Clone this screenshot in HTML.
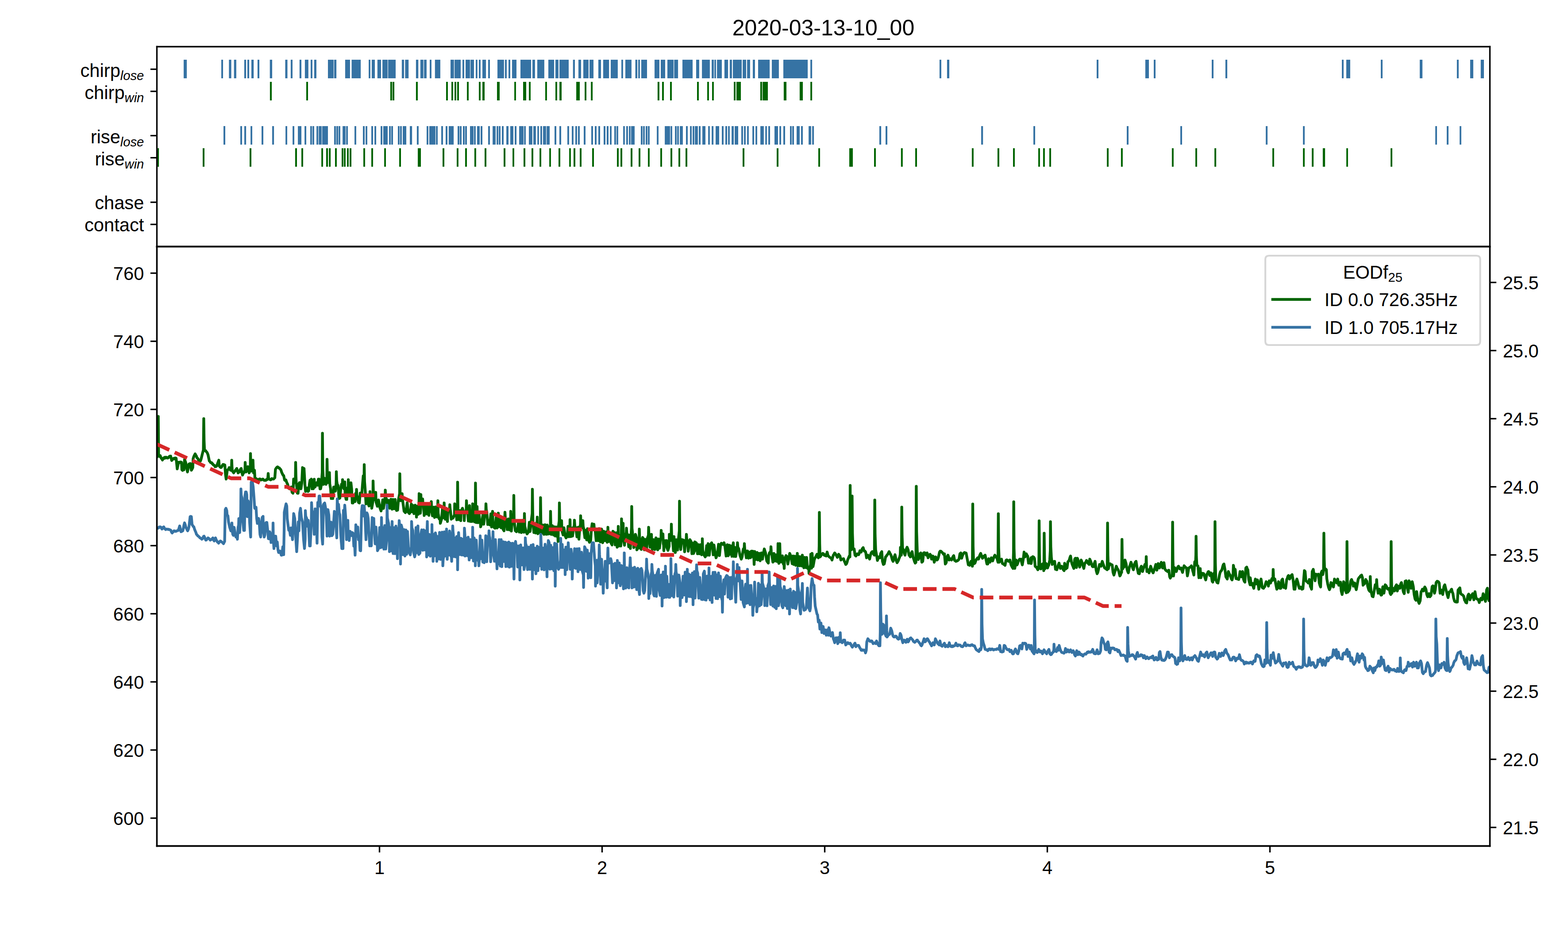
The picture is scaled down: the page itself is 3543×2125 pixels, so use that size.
<!DOCTYPE html>
<html><head><meta charset="utf-8"><title>2020-03-13-10_00</title>
<style>
html,body{margin:0;padding:0;background:#fff;}
body{width:3543px;height:2125px;position:relative;overflow:hidden;font-family:"Liberation Sans",sans-serif;}
</style></head><body>

<svg width="3543" height="2125" viewBox="0 0 850.32 510" preserveAspectRatio="none" style="position:absolute;left:0;top:0;display:block">
<defs>
<style type="text/css">*{stroke-linejoin: round; stroke-linecap: butt}</style>
</defs>
<g id="figure_1">
<g id="patch_1">
<path d="M 0 510 
L 850.32 510 
L 850.32 0 
L 0 0 
z
" style="fill: #ffffff"/>
</g>
<g id="axes_1">
<g id="patch_2">
<path d="M 85.08 133.8 
L 807.96 133.8 
L 807.96 25.32 
L 85.08 25.32 
z
" style="fill: #ffffff"/>
</g>
<g id="PatchCollection_1">
<path d="M 99.6 32.424 
L 101.304 32.424 
L 101.304 42.456 
L 99.6 42.456 
z
" clip-path="url(#pc939853afc)" style="fill: #3673a4"/>
<path d="M 120 32.424 
L 120.96 32.424 
L 120.96 42.456 
L 120 42.456 
z
" clip-path="url(#pc939853afc)" style="fill: #3673a4"/>
<path d="M 124.152 32.424 
L 125.424 32.424 
L 125.424 42.456 
L 124.152 42.456 
z
" clip-path="url(#pc939853afc)" style="fill: #3673a4"/>
<path d="M 126.888 32.424 
L 128.136 32.424 
L 128.136 42.456 
L 126.888 42.456 
z
" clip-path="url(#pc939853afc)" style="fill: #3673a4"/>
<path d="M 132.456 32.424 
L 133.464 32.424 
L 133.464 42.456 
L 132.456 42.456 
z
" clip-path="url(#pc939853afc)" style="fill: #3673a4"/>
<path d="M 134.16 32.424 
L 135.12 32.424 
L 135.12 42.456 
L 134.16 42.456 
z
" clip-path="url(#pc939853afc)" style="fill: #3673a4"/>
<path d="M 136.32 32.424 
L 137.568 32.424 
L 137.568 42.456 
L 136.32 42.456 
z
" clip-path="url(#pc939853afc)" style="fill: #3673a4"/>
<path d="M 139.656 32.424 
L 140.64 32.424 
L 140.64 42.456 
L 139.656 42.456 
z
" clip-path="url(#pc939853afc)" style="fill: #3673a4"/>
<path d="M 146.328 32.424 
L 147.6 32.424 
L 147.6 42.456 
L 146.328 42.456 
z
" clip-path="url(#pc939853afc)" style="fill: #3673a4"/>
<path d="M 154.68 32.424 
L 155.88 32.424 
L 155.88 42.456 
L 154.68 42.456 
z
" clip-path="url(#pc939853afc)" style="fill: #3673a4"/>
<path d="M 157.656 32.424 
L 158.64 32.424 
L 158.64 42.456 
L 157.656 42.456 
z
" clip-path="url(#pc939853afc)" style="fill: #3673a4"/>
<path d="M 162.432 32.424 
L 163.44 32.424 
L 163.44 42.456 
L 162.432 42.456 
z
" clip-path="url(#pc939853afc)" style="fill: #3673a4"/>
<path d="M 165.336 32.424 
L 167.232 32.424 
L 167.232 42.456 
L 165.336 42.456 
z
" clip-path="url(#pc939853afc)" style="fill: #3673a4"/>
<path d="M 168.48 32.424 
L 169.416 32.424 
L 169.416 42.456 
L 168.48 42.456 
z
" clip-path="url(#pc939853afc)" style="fill: #3673a4"/>
<path d="M 170.376 32.424 
L 171.576 32.424 
L 171.576 42.456 
L 170.376 42.456 
z
" clip-path="url(#pc939853afc)" style="fill: #3673a4"/>
<path d="M 177.84 32.424 
L 180.936 32.424 
L 180.936 42.456 
L 177.84 42.456 
z
" clip-path="url(#pc939853afc)" style="fill: #3673a4"/>
<path d="M 181.2 32.424 
L 182.424 32.424 
L 182.424 42.456 
L 181.2 42.456 
z
" clip-path="url(#pc939853afc)" style="fill: #3673a4"/>
<path d="M 187.176 32.424 
L 189.816 32.424 
L 189.816 42.456 
L 187.176 42.456 
z
" clip-path="url(#pc939853afc)" style="fill: #3673a4"/>
<path d="M 190.68 32.424 
L 195.624 32.424 
L 195.624 42.456 
L 190.68 42.456 
z
" clip-path="url(#pc939853afc)" style="fill: #3673a4"/>
<path d="M 199.944 32.424 
L 200.856 32.424 
L 200.856 42.456 
L 199.944 42.456 
z
" clip-path="url(#pc939853afc)" style="fill: #3673a4"/>
<path d="M 201.576 32.424 
L 203.28 32.424 
L 203.28 42.456 
L 201.576 42.456 
z
" clip-path="url(#pc939853afc)" style="fill: #3673a4"/>
<path d="M 204.672 32.424 
L 206.64 32.424 
L 206.64 42.456 
L 204.672 42.456 
z
" clip-path="url(#pc939853afc)" style="fill: #3673a4"/>
<path d="M 207.384 32.424 
L 210.216 32.424 
L 210.216 42.456 
L 207.384 42.456 
z
" clip-path="url(#pc939853afc)" style="fill: #3673a4"/>
<path d="M 210.48 32.424 
L 214.56 32.424 
L 214.56 42.456 
L 210.48 42.456 
z
" clip-path="url(#pc939853afc)" style="fill: #3673a4"/>
<path d="M 217.896 32.424 
L 219.12 32.424 
L 219.12 42.456 
L 217.896 42.456 
z
" clip-path="url(#pc939853afc)" style="fill: #3673a4"/>
<path d="M 219.696 32.424 
L 221.568 32.424 
L 221.568 42.456 
L 219.696 42.456 
z
" clip-path="url(#pc939853afc)" style="fill: #3673a4"/>
<path d="M 225.576 32.424 
L 226.848 32.424 
L 226.848 42.456 
L 225.576 42.456 
z
" clip-path="url(#pc939853afc)" style="fill: #3673a4"/>
<path d="M 227.976 32.424 
L 229.632 32.424 
L 229.632 42.456 
L 227.976 42.456 
z
" clip-path="url(#pc939853afc)" style="fill: #3673a4"/>
<path d="M 229.944 32.424 
L 231.336 32.424 
L 231.336 42.456 
L 229.944 42.456 
z
" clip-path="url(#pc939853afc)" style="fill: #3673a4"/>
<path d="M 233.04 32.424 
L 233.976 32.424 
L 233.976 42.456 
L 233.04 42.456 
z
" clip-path="url(#pc939853afc)" style="fill: #3673a4"/>
<path d="M 235.872 32.424 
L 238.776 32.424 
L 238.776 42.456 
L 235.872 42.456 
z
" clip-path="url(#pc939853afc)" style="fill: #3673a4"/>
<path d="M 244.32 32.424 
L 246.192 32.424 
L 246.192 42.456 
L 244.32 42.456 
z
" clip-path="url(#pc939853afc)" style="fill: #3673a4"/>
<path d="M 246.504 32.424 
L 249.84 32.424 
L 249.84 42.456 
L 246.504 42.456 
z
" clip-path="url(#pc939853afc)" style="fill: #3673a4"/>
<path d="M 250.8 32.424 
L 251.736 32.424 
L 251.736 42.456 
L 250.8 42.456 
z
" clip-path="url(#pc939853afc)" style="fill: #3673a4"/>
<path d="M 252.48 32.424 
L 254.88 32.424 
L 254.88 42.456 
L 252.48 42.456 
z
" clip-path="url(#pc939853afc)" style="fill: #3673a4"/>
<path d="M 255.144 32.424 
L 257.04 32.424 
L 257.04 42.456 
L 255.144 42.456 
z
" clip-path="url(#pc939853afc)" style="fill: #3673a4"/>
<path d="M 258 32.424 
L 258.912 32.424 
L 258.912 42.456 
L 258 42.456 
z
" clip-path="url(#pc939853afc)" style="fill: #3673a4"/>
<path d="M 259.68 32.424 
L 260.616 32.424 
L 260.616 42.456 
L 259.68 42.456 
z
" clip-path="url(#pc939853afc)" style="fill: #3673a4"/>
<path d="M 261.6 32.424 
L 263.544 32.424 
L 263.544 42.456 
L 261.6 42.456 
z
" clip-path="url(#pc939853afc)" style="fill: #3673a4"/>
<path d="M 264.72 32.424 
L 265.68 32.424 
L 265.68 42.456 
L 264.72 42.456 
z
" clip-path="url(#pc939853afc)" style="fill: #3673a4"/>
<path d="M 269.76 32.424 
L 273.312 32.424 
L 273.312 42.456 
L 269.76 42.456 
z
" clip-path="url(#pc939853afc)" style="fill: #3673a4"/>
<path d="M 273.84 32.424 
L 274.8 32.424 
L 274.8 42.456 
L 273.84 42.456 
z
" clip-path="url(#pc939853afc)" style="fill: #3673a4"/>
<path d="M 275.76 32.424 
L 276.72 32.424 
L 276.72 42.456 
L 275.76 42.456 
z
" clip-path="url(#pc939853afc)" style="fill: #3673a4"/>
<path d="M 277.68 32.424 
L 280.08 32.424 
L 280.08 42.456 
L 277.68 42.456 
z
" clip-path="url(#pc939853afc)" style="fill: #3673a4"/>
<path d="M 282.24 32.424 
L 288.024 32.424 
L 288.024 42.456 
L 282.24 42.456 
z
" clip-path="url(#pc939853afc)" style="fill: #3673a4"/>
<path d="M 288.72 32.424 
L 290.136 32.424 
L 290.136 42.456 
L 288.72 42.456 
z
" clip-path="url(#pc939853afc)" style="fill: #3673a4"/>
<path d="M 291.36 32.424 
L 295.176 32.424 
L 295.176 42.456 
L 291.36 42.456 
z
" clip-path="url(#pc939853afc)" style="fill: #3673a4"/>
<path d="M 297.36 32.424 
L 300.504 32.424 
L 300.504 42.456 
L 297.36 42.456 
z
" clip-path="url(#pc939853afc)" style="fill: #3673a4"/>
<path d="M 301.2 32.424 
L 302.856 32.424 
L 302.856 42.456 
L 301.2 42.456 
z
" clip-path="url(#pc939853afc)" style="fill: #3673a4"/>
<path d="M 303.384 32.424 
L 308.4 32.424 
L 308.4 42.456 
L 303.384 42.456 
z
" clip-path="url(#pc939853afc)" style="fill: #3673a4"/>
<path d="M 310.728 32.424 
L 311.76 32.424 
L 311.76 42.456 
L 310.728 42.456 
z
" clip-path="url(#pc939853afc)" style="fill: #3673a4"/>
<path d="M 313.68 32.424 
L 315.12 32.424 
L 315.12 42.456 
L 313.68 42.456 
z
" clip-path="url(#pc939853afc)" style="fill: #3673a4"/>
<path d="M 316.32 32.424 
L 319.176 32.424 
L 319.176 42.456 
L 316.32 42.456 
z
" clip-path="url(#pc939853afc)" style="fill: #3673a4"/>
<path d="M 319.68 32.424 
L 321.84 32.424 
L 321.84 42.456 
L 319.68 42.456 
z
" clip-path="url(#pc939853afc)" style="fill: #3673a4"/>
<path d="M 324.48 32.424 
L 325.92 32.424 
L 325.92 42.456 
L 324.48 42.456 
z
" clip-path="url(#pc939853afc)" style="fill: #3673a4"/>
<path d="M 327.096 32.424 
L 330.288 32.424 
L 330.288 42.456 
L 327.096 42.456 
z
" clip-path="url(#pc939853afc)" style="fill: #3673a4"/>
<path d="M 331.2 32.424 
L 335.016 32.424 
L 335.016 42.456 
L 331.2 42.456 
z
" clip-path="url(#pc939853afc)" style="fill: #3673a4"/>
<path d="M 336.96 32.424 
L 337.896 32.424 
L 337.896 42.456 
L 336.96 42.456 
z
" clip-path="url(#pc939853afc)" style="fill: #3673a4"/>
<path d="M 339.12 32.424 
L 342.456 32.424 
L 342.456 42.456 
L 339.12 42.456 
z
" clip-path="url(#pc939853afc)" style="fill: #3673a4"/>
<path d="M 344.544 32.424 
L 345.624 32.424 
L 345.624 42.456 
L 344.544 42.456 
z
" clip-path="url(#pc939853afc)" style="fill: #3673a4"/>
<path d="M 346.104 32.424 
L 347.016 32.424 
L 347.016 42.456 
L 346.104 42.456 
z
" clip-path="url(#pc939853afc)" style="fill: #3673a4"/>
<path d="M 347.736 32.424 
L 350.88 32.424 
L 350.88 42.456 
L 347.736 42.456 
z
" clip-path="url(#pc939853afc)" style="fill: #3673a4"/>
<path d="M 354.96 32.424 
L 357.6 32.424 
L 357.6 42.456 
L 354.96 42.456 
z
" clip-path="url(#pc939853afc)" style="fill: #3673a4"/>
<path d="M 358.32 32.424 
L 360.72 32.424 
L 360.72 42.456 
L 358.32 42.456 
z
" clip-path="url(#pc939853afc)" style="fill: #3673a4"/>
<path d="M 361.92 32.424 
L 365.28 32.424 
L 365.28 42.456 
L 361.92 42.456 
z
" clip-path="url(#pc939853afc)" style="fill: #3673a4"/>
<path d="M 365.592 32.424 
L 367.704 32.424 
L 367.704 42.456 
L 365.592 42.456 
z
" clip-path="url(#pc939853afc)" style="fill: #3673a4"/>
<path d="M 370.08 32.424 
L 375.6 32.424 
L 375.6 42.456 
L 370.08 42.456 
z
" clip-path="url(#pc939853afc)" style="fill: #3673a4"/>
<path d="M 377.52 32.424 
L 379.176 32.424 
L 379.176 42.456 
L 377.52 42.456 
z
" clip-path="url(#pc939853afc)" style="fill: #3673a4"/>
<path d="M 380.664 32.424 
L 384.936 32.424 
L 384.936 42.456 
L 380.664 42.456 
z
" clip-path="url(#pc939853afc)" style="fill: #3673a4"/>
<path d="M 385.944 32.424 
L 387.096 32.424 
L 387.096 42.456 
L 385.944 42.456 
z
" clip-path="url(#pc939853afc)" style="fill: #3673a4"/>
<path d="M 387.408 32.424 
L 388.296 32.424 
L 388.296 42.456 
L 387.408 42.456 
z
" clip-path="url(#pc939853afc)" style="fill: #3673a4"/>
<path d="M 388.824 32.424 
L 391.44 32.424 
L 391.44 42.456 
L 388.824 42.456 
z
" clip-path="url(#pc939853afc)" style="fill: #3673a4"/>
<path d="M 392.856 32.424 
L 394.824 32.424 
L 394.824 42.456 
L 392.856 42.456 
z
" clip-path="url(#pc939853afc)" style="fill: #3673a4"/>
<path d="M 395.736 32.424 
L 396.936 32.424 
L 396.936 42.456 
L 395.736 42.456 
z
" clip-path="url(#pc939853afc)" style="fill: #3673a4"/>
<path d="M 397.44 32.424 
L 402.24 32.424 
L 402.24 42.456 
L 397.44 42.456 
z
" clip-path="url(#pc939853afc)" style="fill: #3673a4"/>
<path d="M 402.744 32.424 
L 404.64 32.424 
L 404.64 42.456 
L 402.744 42.456 
z
" clip-path="url(#pc939853afc)" style="fill: #3673a4"/>
<path d="M 405.144 32.424 
L 406.776 32.424 
L 406.776 42.456 
L 405.144 42.456 
z
" clip-path="url(#pc939853afc)" style="fill: #3673a4"/>
<path d="M 408.24 32.424 
L 409.416 32.424 
L 409.416 42.456 
L 408.24 42.456 
z
" clip-path="url(#pc939853afc)" style="fill: #3673a4"/>
<path d="M 411.12 32.424 
L 417.384 32.424 
L 417.384 42.456 
L 411.12 42.456 
z
" clip-path="url(#pc939853afc)" style="fill: #3673a4"/>
<path d="M 418.56 32.424 
L 422.376 32.424 
L 422.376 42.456 
L 418.56 42.456 
z
" clip-path="url(#pc939853afc)" style="fill: #3673a4"/>
<path d="M 424.8 32.424 
L 438.024 32.424 
L 438.024 42.456 
L 424.8 42.456 
z
" clip-path="url(#pc939853afc)" style="fill: #3673a4"/>
<path d="M 439.464 32.424 
L 440.424 32.424 
L 440.424 42.456 
L 439.464 42.456 
z
" clip-path="url(#pc939853afc)" style="fill: #3673a4"/>
<path d="M 509.496 32.424 
L 510.456 32.424 
L 510.456 42.456 
L 509.496 42.456 
z
" clip-path="url(#pc939853afc)" style="fill: #3673a4"/>
<path d="M 513.576 32.424 
L 514.8 32.424 
L 514.8 42.456 
L 513.576 42.456 
z
" clip-path="url(#pc939853afc)" style="fill: #3673a4"/>
<path d="M 594.72 32.424 
L 595.68 32.424 
L 595.68 42.456 
L 594.72 42.456 
z
" clip-path="url(#pc939853afc)" style="fill: #3673a4"/>
<path d="M 621.096 32.424 
L 623.04 32.424 
L 623.04 42.456 
L 621.096 42.456 
z
" clip-path="url(#pc939853afc)" style="fill: #3673a4"/>
<path d="M 625.68 32.424 
L 626.64 32.424 
L 626.64 42.456 
L 625.68 42.456 
z
" clip-path="url(#pc939853afc)" style="fill: #3673a4"/>
<path d="M 657.12 32.424 
L 658.08 32.424 
L 658.08 42.456 
L 657.12 42.456 
z
" clip-path="url(#pc939853afc)" style="fill: #3673a4"/>
<path d="M 664.536 32.424 
L 665.544 32.424 
L 665.544 42.456 
L 664.536 42.456 
z
" clip-path="url(#pc939853afc)" style="fill: #3673a4"/>
<path d="M 727.68 32.424 
L 728.64 32.424 
L 728.64 42.456 
L 727.68 42.456 
z
" clip-path="url(#pc939853afc)" style="fill: #3673a4"/>
<path d="M 730.08 32.424 
L 732.216 32.424 
L 732.216 42.456 
L 730.08 42.456 
z
" clip-path="url(#pc939853afc)" style="fill: #3673a4"/>
<path d="M 748.8 32.424 
L 749.76 32.424 
L 749.76 42.456 
L 748.8 42.456 
z
" clip-path="url(#pc939853afc)" style="fill: #3673a4"/>
<path d="M 769.92 32.424 
L 771.384 32.424 
L 771.384 42.456 
L 769.92 42.456 
z
" clip-path="url(#pc939853afc)" style="fill: #3673a4"/>
<path d="M 790.056 32.424 
L 791.04 32.424 
L 791.04 42.456 
L 790.056 42.456 
z
" clip-path="url(#pc939853afc)" style="fill: #3673a4"/>
<path d="M 797.256 32.424 
L 798.96 32.424 
L 798.96 42.456 
L 797.256 42.456 
z
" clip-path="url(#pc939853afc)" style="fill: #3673a4"/>
<path d="M 802.992 32.424 
L 804.72 32.424 
L 804.72 42.456 
L 802.992 42.456 
z
" clip-path="url(#pc939853afc)" style="fill: #3673a4"/>
</g>
<g id="PatchCollection_2">
<path d="M 146.376 44.424 
L 147.384 44.424 
L 147.384 54.456 
L 146.376 54.456 
z
" clip-path="url(#pc939853afc)" style="fill: #006400"/>
<path d="M 166.08 44.424 
L 167.04 44.424 
L 167.04 54.456 
L 166.08 54.456 
z
" clip-path="url(#pc939853afc)" style="fill: #006400"/>
<path d="M 211.656 44.424 
L 212.616 44.424 
L 212.616 54.456 
L 211.656 54.456 
z
" clip-path="url(#pc939853afc)" style="fill: #006400"/>
<path d="M 212.88 44.424 
L 213.84 44.424 
L 213.84 54.456 
L 212.88 54.456 
z
" clip-path="url(#pc939853afc)" style="fill: #006400"/>
<path d="M 225.576 44.424 
L 226.56 44.424 
L 226.56 54.456 
L 225.576 54.456 
z
" clip-path="url(#pc939853afc)" style="fill: #006400"/>
<path d="M 241.92 44.424 
L 242.88 44.424 
L 242.88 54.456 
L 241.92 54.456 
z
" clip-path="url(#pc939853afc)" style="fill: #006400"/>
<path d="M 244.8 44.424 
L 245.736 44.424 
L 245.736 54.456 
L 244.8 54.456 
z
" clip-path="url(#pc939853afc)" style="fill: #006400"/>
<path d="M 246.48 44.424 
L 247.416 44.424 
L 247.416 54.456 
L 246.48 54.456 
z
" clip-path="url(#pc939853afc)" style="fill: #006400"/>
<path d="M 247.92 44.424 
L 248.88 44.424 
L 248.88 54.456 
L 247.92 54.456 
z
" clip-path="url(#pc939853afc)" style="fill: #006400"/>
<path d="M 253.2 44.424 
L 254.16 44.424 
L 254.16 54.456 
L 253.2 54.456 
z
" clip-path="url(#pc939853afc)" style="fill: #006400"/>
<path d="M 259.68 44.424 
L 260.616 44.424 
L 260.616 54.456 
L 259.68 54.456 
z
" clip-path="url(#pc939853afc)" style="fill: #006400"/>
<path d="M 261.6 44.424 
L 262.8 44.424 
L 262.8 54.456 
L 261.6 54.456 
z
" clip-path="url(#pc939853afc)" style="fill: #006400"/>
<path d="M 269.52 44.424 
L 270.96 44.424 
L 270.96 54.456 
L 269.52 54.456 
z
" clip-path="url(#pc939853afc)" style="fill: #006400"/>
<path d="M 278.904 44.424 
L 279.816 44.424 
L 279.816 54.456 
L 278.904 54.456 
z
" clip-path="url(#pc939853afc)" style="fill: #006400"/>
<path d="M 283.68 44.424 
L 285.36 44.424 
L 285.36 54.456 
L 283.68 54.456 
z
" clip-path="url(#pc939853afc)" style="fill: #006400"/>
<path d="M 286.8 44.424 
L 287.76 44.424 
L 287.76 54.456 
L 286.8 54.456 
z
" clip-path="url(#pc939853afc)" style="fill: #006400"/>
<path d="M 295.68 44.424 
L 296.616 44.424 
L 296.616 54.456 
L 295.68 54.456 
z
" clip-path="url(#pc939853afc)" style="fill: #006400"/>
<path d="M 301.2 44.424 
L 302.136 44.424 
L 302.136 54.456 
L 301.2 54.456 
z
" clip-path="url(#pc939853afc)" style="fill: #006400"/>
<path d="M 303.384 44.424 
L 304.56 44.424 
L 304.56 54.456 
L 303.384 54.456 
z
" clip-path="url(#pc939853afc)" style="fill: #006400"/>
<path d="M 312.504 44.424 
L 314.4 44.424 
L 314.4 54.456 
L 312.504 54.456 
z
" clip-path="url(#pc939853afc)" style="fill: #006400"/>
<path d="M 317.064 44.424 
L 318 44.424 
L 318 54.456 
L 317.064 54.456 
z
" clip-path="url(#pc939853afc)" style="fill: #006400"/>
<path d="M 320.424 44.424 
L 321.384 44.424 
L 321.384 54.456 
L 320.424 54.456 
z
" clip-path="url(#pc939853afc)" style="fill: #006400"/>
<path d="M 356.616 44.424 
L 357.576 44.424 
L 357.576 54.456 
L 356.616 54.456 
z
" clip-path="url(#pc939853afc)" style="fill: #006400"/>
<path d="M 359.04 44.424 
L 360 44.424 
L 360 54.456 
L 359.04 54.456 
z
" clip-path="url(#pc939853afc)" style="fill: #006400"/>
<path d="M 363.36 44.424 
L 364.32 44.424 
L 364.32 54.456 
L 363.36 54.456 
z
" clip-path="url(#pc939853afc)" style="fill: #006400"/>
<path d="M 378 44.424 
L 378.96 44.424 
L 378.96 54.456 
L 378 54.456 
z
" clip-path="url(#pc939853afc)" style="fill: #006400"/>
<path d="M 383.52 44.424 
L 384.456 44.424 
L 384.456 54.456 
L 383.52 54.456 
z
" clip-path="url(#pc939853afc)" style="fill: #006400"/>
<path d="M 386.16 44.424 
L 387.096 44.424 
L 387.096 54.456 
L 386.16 54.456 
z
" clip-path="url(#pc939853afc)" style="fill: #006400"/>
<path d="M 397.944 44.424 
L 398.88 44.424 
L 398.88 54.456 
L 397.944 54.456 
z
" clip-path="url(#pc939853afc)" style="fill: #006400"/>
<path d="M 399.36 44.424 
L 401.76 44.424 
L 401.76 54.456 
L 399.36 54.456 
z
" clip-path="url(#pc939853afc)" style="fill: #006400"/>
<path d="M 412.296 44.424 
L 413.256 44.424 
L 413.256 54.456 
L 412.296 54.456 
z
" clip-path="url(#pc939853afc)" style="fill: #006400"/>
<path d="M 413.544 44.424 
L 416.4 44.424 
L 416.4 54.456 
L 413.544 54.456 
z
" clip-path="url(#pc939853afc)" style="fill: #006400"/>
<path d="M 425.016 44.424 
L 426.48 44.424 
L 426.48 54.456 
L 425.016 54.456 
z
" clip-path="url(#pc939853afc)" style="fill: #006400"/>
<path d="M 433.656 44.424 
L 435.36 44.424 
L 435.36 54.456 
L 433.656 54.456 
z
" clip-path="url(#pc939853afc)" style="fill: #006400"/>
<path d="M 439.464 44.424 
L 440.424 44.424 
L 440.424 54.456 
L 439.464 54.456 
z
" clip-path="url(#pc939853afc)" style="fill: #006400"/>
</g>
<g id="PatchCollection_3">
<path d="M 121.2 68.424 
L 122.16 68.424 
L 122.16 78.456 
L 121.2 78.456 
z
" clip-path="url(#pc939853afc)" style="fill: #3673a4"/>
<path d="M 130.32 68.424 
L 131.28 68.424 
L 131.28 78.456 
L 130.32 78.456 
z
" clip-path="url(#pc939853afc)" style="fill: #3673a4"/>
<path d="M 132.48 68.424 
L 133.464 68.424 
L 133.464 78.456 
L 132.48 78.456 
z
" clip-path="url(#pc939853afc)" style="fill: #3673a4"/>
<path d="M 135.864 68.424 
L 136.8 68.424 
L 136.8 78.456 
L 135.864 78.456 
z
" clip-path="url(#pc939853afc)" style="fill: #3673a4"/>
<path d="M 141.84 68.424 
L 142.8 68.424 
L 142.8 78.456 
L 141.84 78.456 
z
" clip-path="url(#pc939853afc)" style="fill: #3673a4"/>
<path d="M 147.6 68.424 
L 148.584 68.424 
L 148.584 78.456 
L 147.6 78.456 
z
" clip-path="url(#pc939853afc)" style="fill: #3673a4"/>
<path d="M 154.824 68.424 
L 155.76 68.424 
L 155.76 78.456 
L 154.824 78.456 
z
" clip-path="url(#pc939853afc)" style="fill: #3673a4"/>
<path d="M 158.664 68.424 
L 159.6 68.424 
L 159.6 78.456 
L 158.664 78.456 
z
" clip-path="url(#pc939853afc)" style="fill: #3673a4"/>
<path d="M 161.544 68.424 
L 163.44 68.424 
L 163.44 78.456 
L 161.544 78.456 
z
" clip-path="url(#pc939853afc)" style="fill: #3673a4"/>
<path d="M 165.144 68.424 
L 166.08 68.424 
L 166.08 78.456 
L 165.144 78.456 
z
" clip-path="url(#pc939853afc)" style="fill: #3673a4"/>
<path d="M 168.24 68.424 
L 169.176 68.424 
L 169.176 78.456 
L 168.24 78.456 
z
" clip-path="url(#pc939853afc)" style="fill: #3673a4"/>
<path d="M 169.44 68.424 
L 170.376 68.424 
L 170.376 78.456 
L 169.44 78.456 
z
" clip-path="url(#pc939853afc)" style="fill: #3673a4"/>
<path d="M 171.624 68.424 
L 172.56 68.424 
L 172.56 78.456 
L 171.624 78.456 
z
" clip-path="url(#pc939853afc)" style="fill: #3673a4"/>
<path d="M 172.824 68.424 
L 174.456 68.424 
L 174.456 78.456 
L 172.824 78.456 
z
" clip-path="url(#pc939853afc)" style="fill: #3673a4"/>
<path d="M 174.72 68.424 
L 177.84 68.424 
L 177.84 78.456 
L 174.72 78.456 
z
" clip-path="url(#pc939853afc)" style="fill: #3673a4"/>
<path d="M 181.2 68.424 
L 182.16 68.424 
L 182.16 78.456 
L 181.2 78.456 
z
" clip-path="url(#pc939853afc)" style="fill: #3673a4"/>
<path d="M 182.4 68.424 
L 183.36 68.424 
L 183.36 78.456 
L 182.4 78.456 
z
" clip-path="url(#pc939853afc)" style="fill: #3673a4"/>
<path d="M 183.6 68.424 
L 184.536 68.424 
L 184.536 78.456 
L 183.6 78.456 
z
" clip-path="url(#pc939853afc)" style="fill: #3673a4"/>
<path d="M 185.784 68.424 
L 187.416 68.424 
L 187.416 78.456 
L 185.784 78.456 
z
" clip-path="url(#pc939853afc)" style="fill: #3673a4"/>
<path d="M 187.704 68.424 
L 188.64 68.424 
L 188.64 78.456 
L 187.704 78.456 
z
" clip-path="url(#pc939853afc)" style="fill: #3673a4"/>
<path d="M 192.24 68.424 
L 193.176 68.424 
L 193.176 78.456 
L 192.24 78.456 
z
" clip-path="url(#pc939853afc)" style="fill: #3673a4"/>
<path d="M 196.8 68.424 
L 197.76 68.424 
L 197.76 78.456 
L 196.8 78.456 
z
" clip-path="url(#pc939853afc)" style="fill: #3673a4"/>
<path d="M 198.264 68.424 
L 199.176 68.424 
L 199.176 78.456 
L 198.264 78.456 
z
" clip-path="url(#pc939853afc)" style="fill: #3673a4"/>
<path d="M 201.36 68.424 
L 202.32 68.424 
L 202.32 78.456 
L 201.36 78.456 
z
" clip-path="url(#pc939853afc)" style="fill: #3673a4"/>
<path d="M 203.064 68.424 
L 204 68.424 
L 204 78.456 
L 203.064 78.456 
z
" clip-path="url(#pc939853afc)" style="fill: #3673a4"/>
<path d="M 206.424 68.424 
L 207.36 68.424 
L 207.36 78.456 
L 206.424 78.456 
z
" clip-path="url(#pc939853afc)" style="fill: #3673a4"/>
<path d="M 207.84 68.424 
L 210.24 68.424 
L 210.24 78.456 
L 207.84 78.456 
z
" clip-path="url(#pc939853afc)" style="fill: #3673a4"/>
<path d="M 210.984 68.424 
L 211.92 68.424 
L 211.92 78.456 
L 210.984 78.456 
z
" clip-path="url(#pc939853afc)" style="fill: #3673a4"/>
<path d="M 212.16 68.424 
L 213.12 68.424 
L 213.12 78.456 
L 212.16 78.456 
z
" clip-path="url(#pc939853afc)" style="fill: #3673a4"/>
<path d="M 215.76 68.424 
L 216.696 68.424 
L 216.696 78.456 
L 215.76 78.456 
z
" clip-path="url(#pc939853afc)" style="fill: #3673a4"/>
<path d="M 216.96 68.424 
L 217.896 68.424 
L 217.896 78.456 
L 216.96 78.456 
z
" clip-path="url(#pc939853afc)" style="fill: #3673a4"/>
<path d="M 218.4 68.424 
L 220.32 68.424 
L 220.32 78.456 
L 218.4 78.456 
z
" clip-path="url(#pc939853afc)" style="fill: #3673a4"/>
<path d="M 222.24 68.424 
L 223.464 68.424 
L 223.464 78.456 
L 222.24 78.456 
z
" clip-path="url(#pc939853afc)" style="fill: #3673a4"/>
<path d="M 226.056 68.424 
L 227.016 68.424 
L 227.016 78.456 
L 226.056 78.456 
z
" clip-path="url(#pc939853afc)" style="fill: #3673a4"/>
<path d="M 231.36 68.424 
L 232.296 68.424 
L 232.296 78.456 
L 231.36 78.456 
z
" clip-path="url(#pc939853afc)" style="fill: #3673a4"/>
<path d="M 232.8 68.424 
L 236.136 68.424 
L 236.136 78.456 
L 232.8 78.456 
z
" clip-path="url(#pc939853afc)" style="fill: #3673a4"/>
<path d="M 236.424 68.424 
L 237.36 68.424 
L 237.36 78.456 
L 236.424 78.456 
z
" clip-path="url(#pc939853afc)" style="fill: #3673a4"/>
<path d="M 239.28 68.424 
L 240.24 68.424 
L 240.24 78.456 
L 239.28 78.456 
z
" clip-path="url(#pc939853afc)" style="fill: #3673a4"/>
<path d="M 241.68 68.424 
L 242.64 68.424 
L 242.64 78.456 
L 241.68 78.456 
z
" clip-path="url(#pc939853afc)" style="fill: #3673a4"/>
<path d="M 243.336 68.424 
L 246.024 68.424 
L 246.024 78.456 
L 243.336 78.456 
z
" clip-path="url(#pc939853afc)" style="fill: #3673a4"/>
<path d="M 248.16 68.424 
L 249.12 68.424 
L 249.12 78.456 
L 248.16 78.456 
z
" clip-path="url(#pc939853afc)" style="fill: #3673a4"/>
<path d="M 249.36 68.424 
L 250.32 68.424 
L 250.32 78.456 
L 249.36 78.456 
z
" clip-path="url(#pc939853afc)" style="fill: #3673a4"/>
<path d="M 251.04 68.424 
L 252 68.424 
L 252 78.456 
L 251.04 78.456 
z
" clip-path="url(#pc939853afc)" style="fill: #3673a4"/>
<path d="M 252.24 68.424 
L 253.2 68.424 
L 253.2 78.456 
L 252.24 78.456 
z
" clip-path="url(#pc939853afc)" style="fill: #3673a4"/>
<path d="M 254.88 68.424 
L 256.8 68.424 
L 256.8 78.456 
L 254.88 78.456 
z
" clip-path="url(#pc939853afc)" style="fill: #3673a4"/>
<path d="M 257.04 68.424 
L 257.976 68.424 
L 257.976 78.456 
L 257.04 78.456 
z
" clip-path="url(#pc939853afc)" style="fill: #3673a4"/>
<path d="M 258.72 68.424 
L 260.16 68.424 
L 260.16 78.456 
L 258.72 78.456 
z
" clip-path="url(#pc939853afc)" style="fill: #3673a4"/>
<path d="M 260.64 68.424 
L 261.6 68.424 
L 261.6 78.456 
L 260.64 78.456 
z
" clip-path="url(#pc939853afc)" style="fill: #3673a4"/>
<path d="M 264.72 68.424 
L 265.68 68.424 
L 265.68 78.456 
L 264.72 78.456 
z
" clip-path="url(#pc939853afc)" style="fill: #3673a4"/>
<path d="M 267.144 68.424 
L 268.776 68.424 
L 268.776 78.456 
L 267.144 78.456 
z
" clip-path="url(#pc939853afc)" style="fill: #3673a4"/>
<path d="M 269.304 68.424 
L 270.216 68.424 
L 270.216 78.456 
L 269.304 78.456 
z
" clip-path="url(#pc939853afc)" style="fill: #3673a4"/>
<path d="M 270.504 68.424 
L 271.44 68.424 
L 271.44 78.456 
L 270.504 78.456 
z
" clip-path="url(#pc939853afc)" style="fill: #3673a4"/>
<path d="M 272.16 68.424 
L 273.12 68.424 
L 273.12 78.456 
L 272.16 78.456 
z
" clip-path="url(#pc939853afc)" style="fill: #3673a4"/>
<path d="M 274.584 68.424 
L 275.76 68.424 
L 275.76 78.456 
L 274.584 78.456 
z
" clip-path="url(#pc939853afc)" style="fill: #3673a4"/>
<path d="M 276.72 68.424 
L 278.4 68.424 
L 278.4 78.456 
L 276.72 78.456 
z
" clip-path="url(#pc939853afc)" style="fill: #3673a4"/>
<path d="M 279.144 68.424 
L 280.08 68.424 
L 280.08 78.456 
L 279.144 78.456 
z
" clip-path="url(#pc939853afc)" style="fill: #3673a4"/>
<path d="M 281.52 68.424 
L 283.92 68.424 
L 283.92 78.456 
L 281.52 78.456 
z
" clip-path="url(#pc939853afc)" style="fill: #3673a4"/>
<path d="M 284.208 68.424 
L 285.12 68.424 
L 285.12 78.456 
L 284.208 78.456 
z
" clip-path="url(#pc939853afc)" style="fill: #3673a4"/>
<path d="M 286.8 68.424 
L 288.696 68.424 
L 288.696 78.456 
L 286.8 78.456 
z
" clip-path="url(#pc939853afc)" style="fill: #3673a4"/>
<path d="M 289.224 68.424 
L 290.616 68.424 
L 290.616 78.456 
L 289.224 78.456 
z
" clip-path="url(#pc939853afc)" style="fill: #3673a4"/>
<path d="M 291.408 68.424 
L 292.296 68.424 
L 292.296 78.456 
L 291.408 78.456 
z
" clip-path="url(#pc939853afc)" style="fill: #3673a4"/>
<path d="M 293.04 68.424 
L 293.976 68.424 
L 293.976 78.456 
L 293.04 78.456 
z
" clip-path="url(#pc939853afc)" style="fill: #3673a4"/>
<path d="M 294.48 68.424 
L 296.136 68.424 
L 296.136 78.456 
L 294.48 78.456 
z
" clip-path="url(#pc939853afc)" style="fill: #3673a4"/>
<path d="M 296.424 68.424 
L 298.08 68.424 
L 298.08 78.456 
L 296.424 78.456 
z
" clip-path="url(#pc939853afc)" style="fill: #3673a4"/>
<path d="M 300.72 68.424 
L 301.68 68.424 
L 301.68 78.456 
L 300.72 78.456 
z
" clip-path="url(#pc939853afc)" style="fill: #3673a4"/>
<path d="M 303.336 68.424 
L 304.32 68.424 
L 304.32 78.456 
L 303.336 78.456 
z
" clip-path="url(#pc939853afc)" style="fill: #3673a4"/>
<path d="M 307.68 68.424 
L 308.616 68.424 
L 308.616 78.456 
L 307.68 78.456 
z
" clip-path="url(#pc939853afc)" style="fill: #3673a4"/>
<path d="M 310.08 68.424 
L 311.016 68.424 
L 311.016 78.456 
L 310.08 78.456 
z
" clip-path="url(#pc939853afc)" style="fill: #3673a4"/>
<path d="M 312 68.424 
L 312.936 68.424 
L 312.936 78.456 
L 312 78.456 
z
" clip-path="url(#pc939853afc)" style="fill: #3673a4"/>
<path d="M 313.44 68.424 
L 314.4 68.424 
L 314.4 78.456 
L 313.44 78.456 
z
" clip-path="url(#pc939853afc)" style="fill: #3673a4"/>
<path d="M 316.56 68.424 
L 317.52 68.424 
L 317.52 78.456 
L 316.56 78.456 
z
" clip-path="url(#pc939853afc)" style="fill: #3673a4"/>
<path d="M 320.64 68.424 
L 321.6 68.424 
L 321.6 78.456 
L 320.64 78.456 
z
" clip-path="url(#pc939853afc)" style="fill: #3673a4"/>
<path d="M 322.56 68.424 
L 323.52 68.424 
L 323.52 78.456 
L 322.56 78.456 
z
" clip-path="url(#pc939853afc)" style="fill: #3673a4"/>
<path d="M 324.48 68.424 
L 325.44 68.424 
L 325.44 78.456 
L 324.48 78.456 
z
" clip-path="url(#pc939853afc)" style="fill: #3673a4"/>
<path d="M 327.36 68.424 
L 328.32 68.424 
L 328.32 78.456 
L 327.36 78.456 
z
" clip-path="url(#pc939853afc)" style="fill: #3673a4"/>
<path d="M 329.016 68.424 
L 330 68.424 
L 330 78.456 
L 329.016 78.456 
z
" clip-path="url(#pc939853afc)" style="fill: #3673a4"/>
<path d="M 330.744 68.424 
L 331.656 68.424 
L 331.656 78.456 
L 330.744 78.456 
z
" clip-path="url(#pc939853afc)" style="fill: #3673a4"/>
<path d="M 333.12 68.424 
L 334.056 68.424 
L 334.056 78.456 
L 333.12 78.456 
z
" clip-path="url(#pc939853afc)" style="fill: #3673a4"/>
<path d="M 334.344 68.424 
L 335.256 68.424 
L 335.256 78.456 
L 334.344 78.456 
z
" clip-path="url(#pc939853afc)" style="fill: #3673a4"/>
<path d="M 337.944 68.424 
L 338.856 68.424 
L 338.856 78.456 
L 337.944 78.456 
z
" clip-path="url(#pc939853afc)" style="fill: #3673a4"/>
<path d="M 339.6 68.424 
L 340.536 68.424 
L 340.536 78.456 
L 339.6 78.456 
z
" clip-path="url(#pc939853afc)" style="fill: #3673a4"/>
<path d="M 341.064 68.424 
L 341.976 68.424 
L 341.976 78.456 
L 341.064 78.456 
z
" clip-path="url(#pc939853afc)" style="fill: #3673a4"/>
<path d="M 342.24 68.424 
L 344.16 68.424 
L 344.16 78.456 
L 342.24 78.456 
z
" clip-path="url(#pc939853afc)" style="fill: #3673a4"/>
<path d="M 347.52 68.424 
L 348.456 68.424 
L 348.456 78.456 
L 347.52 78.456 
z
" clip-path="url(#pc939853afc)" style="fill: #3673a4"/>
<path d="M 348.744 68.424 
L 349.656 68.424 
L 349.656 78.456 
L 348.744 78.456 
z
" clip-path="url(#pc939853afc)" style="fill: #3673a4"/>
<path d="M 350.16 68.424 
L 351.096 68.424 
L 351.096 78.456 
L 350.16 78.456 
z
" clip-path="url(#pc939853afc)" style="fill: #3673a4"/>
<path d="M 351.36 68.424 
L 352.296 68.424 
L 352.296 78.456 
L 351.36 78.456 
z
" clip-path="url(#pc939853afc)" style="fill: #3673a4"/>
<path d="M 356.184 68.424 
L 357.12 68.424 
L 357.12 78.456 
L 356.184 78.456 
z
" clip-path="url(#pc939853afc)" style="fill: #3673a4"/>
<path d="M 360.504 68.424 
L 363.36 68.424 
L 363.36 78.456 
L 360.504 78.456 
z
" clip-path="url(#pc939853afc)" style="fill: #3673a4"/>
<path d="M 363.624 68.424 
L 364.536 68.424 
L 364.536 78.456 
L 363.624 78.456 
z
" clip-path="url(#pc939853afc)" style="fill: #3673a4"/>
<path d="M 366.024 68.424 
L 366.96 68.424 
L 366.96 78.456 
L 366.024 78.456 
z
" clip-path="url(#pc939853afc)" style="fill: #3673a4"/>
<path d="M 367.224 68.424 
L 368.136 68.424 
L 368.136 78.456 
L 367.224 78.456 
z
" clip-path="url(#pc939853afc)" style="fill: #3673a4"/>
<path d="M 368.664 68.424 
L 370.296 68.424 
L 370.296 78.456 
L 368.664 78.456 
z
" clip-path="url(#pc939853afc)" style="fill: #3673a4"/>
<path d="M 372 68.424 
L 372.96 68.424 
L 372.96 78.456 
L 372 78.456 
z
" clip-path="url(#pc939853afc)" style="fill: #3673a4"/>
<path d="M 374.184 68.424 
L 375.12 68.424 
L 375.12 78.456 
L 374.184 78.456 
z
" clip-path="url(#pc939853afc)" style="fill: #3673a4"/>
<path d="M 375.6 68.424 
L 376.536 68.424 
L 376.536 78.456 
L 375.6 78.456 
z
" clip-path="url(#pc939853afc)" style="fill: #3673a4"/>
<path d="M 376.824 68.424 
L 378.456 68.424 
L 378.456 78.456 
L 376.824 78.456 
z
" clip-path="url(#pc939853afc)" style="fill: #3673a4"/>
<path d="M 378.96 68.424 
L 379.92 68.424 
L 379.92 78.456 
L 378.96 78.456 
z
" clip-path="url(#pc939853afc)" style="fill: #3673a4"/>
<path d="M 380.88 68.424 
L 382.56 68.424 
L 382.56 78.456 
L 380.88 78.456 
z
" clip-path="url(#pc939853afc)" style="fill: #3673a4"/>
<path d="M 384.024 68.424 
L 384.936 68.424 
L 384.936 78.456 
L 384.024 78.456 
z
" clip-path="url(#pc939853afc)" style="fill: #3673a4"/>
<path d="M 385.944 68.424 
L 386.904 68.424 
L 386.904 78.456 
L 385.944 78.456 
z
" clip-path="url(#pc939853afc)" style="fill: #3673a4"/>
<path d="M 388.08 68.424 
L 390 68.424 
L 390 78.456 
L 388.08 78.456 
z
" clip-path="url(#pc939853afc)" style="fill: #3673a4"/>
<path d="M 391.44 68.424 
L 392.4 68.424 
L 392.4 78.456 
L 391.44 78.456 
z
" clip-path="url(#pc939853afc)" style="fill: #3673a4"/>
<path d="M 393.36 68.424 
L 394.32 68.424 
L 394.32 78.456 
L 393.36 78.456 
z
" clip-path="url(#pc939853afc)" style="fill: #3673a4"/>
<path d="M 394.824 68.424 
L 395.736 68.424 
L 395.736 78.456 
L 394.824 78.456 
z
" clip-path="url(#pc939853afc)" style="fill: #3673a4"/>
<path d="M 396.744 68.424 
L 397.92 68.424 
L 397.92 78.456 
L 396.744 78.456 
z
" clip-path="url(#pc939853afc)" style="fill: #3673a4"/>
<path d="M 398.424 68.424 
L 400.32 68.424 
L 400.32 78.456 
L 398.424 78.456 
z
" clip-path="url(#pc939853afc)" style="fill: #3673a4"/>
<path d="M 402 68.424 
L 402.936 68.424 
L 402.936 78.456 
L 402 78.456 
z
" clip-path="url(#pc939853afc)" style="fill: #3673a4"/>
<path d="M 403.464 68.424 
L 404.4 68.424 
L 404.4 78.456 
L 403.464 78.456 
z
" clip-path="url(#pc939853afc)" style="fill: #3673a4"/>
<path d="M 405.144 68.424 
L 406.056 68.424 
L 406.056 78.456 
L 405.144 78.456 
z
" clip-path="url(#pc939853afc)" style="fill: #3673a4"/>
<path d="M 408.024 68.424 
L 408.96 68.424 
L 408.96 78.456 
L 408.024 78.456 
z
" clip-path="url(#pc939853afc)" style="fill: #3673a4"/>
<path d="M 409.704 68.424 
L 410.616 68.424 
L 410.616 78.456 
L 409.704 78.456 
z
" clip-path="url(#pc939853afc)" style="fill: #3673a4"/>
<path d="M 412.344 68.424 
L 414.216 68.424 
L 414.216 78.456 
L 412.344 78.456 
z
" clip-path="url(#pc939853afc)" style="fill: #3673a4"/>
<path d="M 415.008 68.424 
L 415.896 68.424 
L 415.896 78.456 
L 415.008 78.456 
z
" clip-path="url(#pc939853afc)" style="fill: #3673a4"/>
<path d="M 416.64 68.424 
L 417.6 68.424 
L 417.6 78.456 
L 416.64 78.456 
z
" clip-path="url(#pc939853afc)" style="fill: #3673a4"/>
<path d="M 420 68.424 
L 421.92 68.424 
L 421.92 78.456 
L 420 78.456 
z
" clip-path="url(#pc939853afc)" style="fill: #3673a4"/>
<path d="M 422.664 68.424 
L 423.6 68.424 
L 423.6 78.456 
L 422.664 78.456 
z
" clip-path="url(#pc939853afc)" style="fill: #3673a4"/>
<path d="M 424.8 68.424 
L 425.76 68.424 
L 425.76 78.456 
L 424.8 78.456 
z
" clip-path="url(#pc939853afc)" style="fill: #3673a4"/>
<path d="M 428.4 68.424 
L 429.336 68.424 
L 429.336 78.456 
L 428.4 78.456 
z
" clip-path="url(#pc939853afc)" style="fill: #3673a4"/>
<path d="M 429.624 68.424 
L 430.56 68.424 
L 430.56 78.456 
L 429.624 78.456 
z
" clip-path="url(#pc939853afc)" style="fill: #3673a4"/>
<path d="M 432 68.424 
L 433.68 68.424 
L 433.68 78.456 
L 432 78.456 
z
" clip-path="url(#pc939853afc)" style="fill: #3673a4"/>
<path d="M 434.4 68.424 
L 435.36 68.424 
L 435.36 78.456 
L 434.4 78.456 
z
" clip-path="url(#pc939853afc)" style="fill: #3673a4"/>
<path d="M 438.504 68.424 
L 439.896 68.424 
L 439.896 78.456 
L 438.504 78.456 
z
" clip-path="url(#pc939853afc)" style="fill: #3673a4"/>
<path d="M 440.424 68.424 
L 441.384 68.424 
L 441.384 78.456 
L 440.424 78.456 
z
" clip-path="url(#pc939853afc)" style="fill: #3673a4"/>
<path d="M 476.856 68.424 
L 477.864 68.424 
L 477.864 78.456 
L 476.856 78.456 
z
" clip-path="url(#pc939853afc)" style="fill: #3673a4"/>
<path d="M 480.24 68.424 
L 481.2 68.424 
L 481.2 78.456 
L 480.24 78.456 
z
" clip-path="url(#pc939853afc)" style="fill: #3673a4"/>
<path d="M 532.08 68.424 
L 533.088 68.424 
L 533.088 78.456 
L 532.08 78.456 
z
" clip-path="url(#pc939853afc)" style="fill: #3673a4"/>
<path d="M 560.4 68.424 
L 561.36 68.424 
L 561.36 78.456 
L 560.4 78.456 
z
" clip-path="url(#pc939853afc)" style="fill: #3673a4"/>
<path d="M 611.04 68.424 
L 612 68.424 
L 612 78.456 
L 611.04 78.456 
z
" clip-path="url(#pc939853afc)" style="fill: #3673a4"/>
<path d="M 640.08 68.424 
L 641.04 68.424 
L 641.04 78.456 
L 640.08 78.456 
z
" clip-path="url(#pc939853afc)" style="fill: #3673a4"/>
<path d="M 686.424 68.424 
L 687.384 68.424 
L 687.384 78.456 
L 686.424 78.456 
z
" clip-path="url(#pc939853afc)" style="fill: #3673a4"/>
<path d="M 706.584 68.424 
L 707.544 68.424 
L 707.544 78.456 
L 706.584 78.456 
z
" clip-path="url(#pc939853afc)" style="fill: #3673a4"/>
<path d="M 778.344 68.424 
L 779.28 68.424 
L 779.28 78.456 
L 778.344 78.456 
z
" clip-path="url(#pc939853afc)" style="fill: #3673a4"/>
<path d="M 784.56 68.424 
L 785.52 68.424 
L 785.52 78.456 
L 784.56 78.456 
z
" clip-path="url(#pc939853afc)" style="fill: #3673a4"/>
<path d="M 791.544 68.424 
L 792.456 68.424 
L 792.456 78.456 
L 791.544 78.456 
z
" clip-path="url(#pc939853afc)" style="fill: #3673a4"/>
</g>
<g id="PatchCollection_4">
<path d="M 85.176 80.424 
L 86.184 80.424 
L 86.184 90.456 
L 85.176 90.456 
z
" clip-path="url(#pc939853afc)" style="fill: #006400"/>
<path d="M 109.92 80.424 
L 110.88 80.424 
L 110.88 90.456 
L 109.92 90.456 
z
" clip-path="url(#pc939853afc)" style="fill: #006400"/>
<path d="M 135.36 80.424 
L 136.32 80.424 
L 136.32 90.456 
L 135.36 90.456 
z
" clip-path="url(#pc939853afc)" style="fill: #006400"/>
<path d="M 160.056 80.424 
L 161.04 80.424 
L 161.04 90.456 
L 160.056 90.456 
z
" clip-path="url(#pc939853afc)" style="fill: #006400"/>
<path d="M 163.44 80.424 
L 164.4 80.424 
L 164.4 90.456 
L 163.44 90.456 
z
" clip-path="url(#pc939853afc)" style="fill: #006400"/>
<path d="M 174.264 80.424 
L 175.2 80.424 
L 175.2 90.456 
L 174.264 90.456 
z
" clip-path="url(#pc939853afc)" style="fill: #006400"/>
<path d="M 176.88 80.424 
L 177.84 80.424 
L 177.84 90.456 
L 176.88 90.456 
z
" clip-path="url(#pc939853afc)" style="fill: #006400"/>
<path d="M 178.344 80.424 
L 179.304 80.424 
L 179.304 90.456 
L 178.344 90.456 
z
" clip-path="url(#pc939853afc)" style="fill: #006400"/>
<path d="M 181.68 80.424 
L 182.64 80.424 
L 182.64 90.456 
L 181.68 90.456 
z
" clip-path="url(#pc939853afc)" style="fill: #006400"/>
<path d="M 185.28 80.424 
L 186.216 80.424 
L 186.216 90.456 
L 185.28 90.456 
z
" clip-path="url(#pc939853afc)" style="fill: #006400"/>
<path d="M 186.504 80.424 
L 187.416 80.424 
L 187.416 90.456 
L 186.504 90.456 
z
" clip-path="url(#pc939853afc)" style="fill: #006400"/>
<path d="M 188.16 80.424 
L 189.096 80.424 
L 189.096 90.456 
L 188.16 90.456 
z
" clip-path="url(#pc939853afc)" style="fill: #006400"/>
<path d="M 189.6 80.424 
L 190.56 80.424 
L 190.56 90.456 
L 189.6 90.456 
z
" clip-path="url(#pc939853afc)" style="fill: #006400"/>
<path d="M 197.04 80.424 
L 198 80.424 
L 198 90.456 
L 197.04 90.456 
z
" clip-path="url(#pc939853afc)" style="fill: #006400"/>
<path d="M 201.36 80.424 
L 202.32 80.424 
L 202.32 90.456 
L 201.36 90.456 
z
" clip-path="url(#pc939853afc)" style="fill: #006400"/>
<path d="M 208.344 80.424 
L 209.28 80.424 
L 209.28 90.456 
L 208.344 90.456 
z
" clip-path="url(#pc939853afc)" style="fill: #006400"/>
<path d="M 216.48 80.424 
L 217.44 80.424 
L 217.44 90.456 
L 216.48 90.456 
z
" clip-path="url(#pc939853afc)" style="fill: #006400"/>
<path d="M 226.56 80.424 
L 228.24 80.424 
L 228.24 90.456 
L 226.56 90.456 
z
" clip-path="url(#pc939853afc)" style="fill: #006400"/>
<path d="M 240 80.424 
L 240.96 80.424 
L 240.96 90.456 
L 240 90.456 
z
" clip-path="url(#pc939853afc)" style="fill: #006400"/>
<path d="M 247.68 80.424 
L 248.616 80.424 
L 248.616 90.456 
L 247.68 90.456 
z
" clip-path="url(#pc939853afc)" style="fill: #006400"/>
<path d="M 252.24 80.424 
L 253.2 80.424 
L 253.2 90.456 
L 252.24 90.456 
z
" clip-path="url(#pc939853afc)" style="fill: #006400"/>
<path d="M 257.256 80.424 
L 258.216 80.424 
L 258.216 90.456 
L 257.256 90.456 
z
" clip-path="url(#pc939853afc)" style="fill: #006400"/>
<path d="M 262.8 80.424 
L 263.76 80.424 
L 263.76 90.456 
L 262.8 90.456 
z
" clip-path="url(#pc939853afc)" style="fill: #006400"/>
<path d="M 273.12 80.424 
L 274.08 80.424 
L 274.08 90.456 
L 273.12 90.456 
z
" clip-path="url(#pc939853afc)" style="fill: #006400"/>
<path d="M 277.944 80.424 
L 278.856 80.424 
L 278.856 90.456 
L 277.944 90.456 
z
" clip-path="url(#pc939853afc)" style="fill: #006400"/>
<path d="M 283.92 80.424 
L 284.88 80.424 
L 284.88 90.456 
L 283.92 90.456 
z
" clip-path="url(#pc939853afc)" style="fill: #006400"/>
<path d="M 288.24 80.424 
L 289.2 80.424 
L 289.2 90.456 
L 288.24 90.456 
z
" clip-path="url(#pc939853afc)" style="fill: #006400"/>
<path d="M 292.584 80.424 
L 293.52 80.424 
L 293.52 90.456 
L 292.584 90.456 
z
" clip-path="url(#pc939853afc)" style="fill: #006400"/>
<path d="M 297.864 80.424 
L 298.776 80.424 
L 298.776 90.456 
L 297.864 90.456 
z
" clip-path="url(#pc939853afc)" style="fill: #006400"/>
<path d="M 302.88 80.424 
L 303.84 80.424 
L 303.84 90.456 
L 302.88 90.456 
z
" clip-path="url(#pc939853afc)" style="fill: #006400"/>
<path d="M 308.664 80.424 
L 309.576 80.424 
L 309.576 90.456 
L 308.664 90.456 
z
" clip-path="url(#pc939853afc)" style="fill: #006400"/>
<path d="M 311.04 80.424 
L 312 80.424 
L 312 90.456 
L 311.04 90.456 
z
" clip-path="url(#pc939853afc)" style="fill: #006400"/>
<path d="M 314.4 80.424 
L 315.36 80.424 
L 315.36 90.456 
L 314.4 90.456 
z
" clip-path="url(#pc939853afc)" style="fill: #006400"/>
<path d="M 321.12 80.424 
L 322.08 80.424 
L 322.08 90.456 
L 321.12 90.456 
z
" clip-path="url(#pc939853afc)" style="fill: #006400"/>
<path d="M 334.56 80.424 
L 335.52 80.424 
L 335.52 90.456 
L 334.56 90.456 
z
" clip-path="url(#pc939853afc)" style="fill: #006400"/>
<path d="M 336.48 80.424 
L 337.44 80.424 
L 337.44 90.456 
L 336.48 90.456 
z
" clip-path="url(#pc939853afc)" style="fill: #006400"/>
<path d="M 342 80.424 
L 342.96 80.424 
L 342.96 90.456 
L 342 90.456 
z
" clip-path="url(#pc939853afc)" style="fill: #006400"/>
<path d="M 346.32 80.424 
L 347.28 80.424 
L 347.28 90.456 
L 346.32 90.456 
z
" clip-path="url(#pc939853afc)" style="fill: #006400"/>
<path d="M 351.36 80.424 
L 352.296 80.424 
L 352.296 90.456 
L 351.36 90.456 
z
" clip-path="url(#pc939853afc)" style="fill: #006400"/>
<path d="M 358.08 80.424 
L 359.04 80.424 
L 359.04 90.456 
L 358.08 90.456 
z
" clip-path="url(#pc939853afc)" style="fill: #006400"/>
<path d="M 363.6 80.424 
L 364.56 80.424 
L 364.56 90.456 
L 363.6 90.456 
z
" clip-path="url(#pc939853afc)" style="fill: #006400"/>
<path d="M 367.92 80.424 
L 368.88 80.424 
L 368.88 90.456 
L 367.92 90.456 
z
" clip-path="url(#pc939853afc)" style="fill: #006400"/>
<path d="M 371.76 80.424 
L 372.72 80.424 
L 372.72 90.456 
L 371.76 90.456 
z
" clip-path="url(#pc939853afc)" style="fill: #006400"/>
<path d="M 402.72 80.424 
L 403.68 80.424 
L 403.68 90.456 
L 402.72 90.456 
z
" clip-path="url(#pc939853afc)" style="fill: #006400"/>
<path d="M 421.2 80.424 
L 422.16 80.424 
L 422.16 90.456 
L 421.2 90.456 
z
" clip-path="url(#pc939853afc)" style="fill: #006400"/>
<path d="M 443.76 80.424 
L 444.72 80.424 
L 444.72 90.456 
L 443.76 90.456 
z
" clip-path="url(#pc939853afc)" style="fill: #006400"/>
<path d="M 460.56 80.424 
L 462.48 80.424 
L 462.48 90.456 
L 460.56 90.456 
z
" clip-path="url(#pc939853afc)" style="fill: #006400"/>
<path d="M 474 80.424 
L 474.96 80.424 
L 474.96 90.456 
L 474 90.456 
z
" clip-path="url(#pc939853afc)" style="fill: #006400"/>
<path d="M 488.592 80.424 
L 489.552 80.424 
L 489.552 90.456 
L 488.592 90.456 
z
" clip-path="url(#pc939853afc)" style="fill: #006400"/>
<path d="M 496.32 80.424 
L 497.28 80.424 
L 497.28 90.456 
L 496.32 90.456 
z
" clip-path="url(#pc939853afc)" style="fill: #006400"/>
<path d="M 527.016 80.424 
L 527.976 80.424 
L 527.976 90.456 
L 527.016 90.456 
z
" clip-path="url(#pc939853afc)" style="fill: #006400"/>
<path d="M 540.936 80.424 
L 541.896 80.424 
L 541.896 90.456 
L 540.936 90.456 
z
" clip-path="url(#pc939853afc)" style="fill: #006400"/>
<path d="M 549.36 80.424 
L 550.32 80.424 
L 550.32 90.456 
L 549.36 90.456 
z
" clip-path="url(#pc939853afc)" style="fill: #006400"/>
<path d="M 563.04 80.424 
L 563.976 80.424 
L 563.976 90.456 
L 563.04 90.456 
z
" clip-path="url(#pc939853afc)" style="fill: #006400"/>
<path d="M 565.656 80.424 
L 566.616 80.424 
L 566.616 90.456 
L 565.656 90.456 
z
" clip-path="url(#pc939853afc)" style="fill: #006400"/>
<path d="M 569.04 80.424 
L 570 80.424 
L 570 90.456 
L 569.04 90.456 
z
" clip-path="url(#pc939853afc)" style="fill: #006400"/>
<path d="M 600.24 80.424 
L 601.2 80.424 
L 601.2 90.456 
L 600.24 90.456 
z
" clip-path="url(#pc939853afc)" style="fill: #006400"/>
<path d="M 607.896 80.424 
L 608.856 80.424 
L 608.856 90.456 
L 607.896 90.456 
z
" clip-path="url(#pc939853afc)" style="fill: #006400"/>
<path d="M 635.496 80.424 
L 636.456 80.424 
L 636.456 90.456 
L 635.496 90.456 
z
" clip-path="url(#pc939853afc)" style="fill: #006400"/>
<path d="M 648.24 80.424 
L 649.2 80.424 
L 649.2 90.456 
L 648.24 90.456 
z
" clip-path="url(#pc939853afc)" style="fill: #006400"/>
<path d="M 658.584 80.424 
L 659.544 80.424 
L 659.544 90.456 
L 658.584 90.456 
z
" clip-path="url(#pc939853afc)" style="fill: #006400"/>
<path d="M 690 80.424 
L 690.96 80.424 
L 690.96 90.456 
L 690 90.456 
z
" clip-path="url(#pc939853afc)" style="fill: #006400"/>
<path d="M 706.584 80.424 
L 707.544 80.424 
L 707.544 90.456 
L 706.584 90.456 
z
" clip-path="url(#pc939853afc)" style="fill: #006400"/>
<path d="M 711.384 80.424 
L 712.344 80.424 
L 712.344 90.456 
L 711.384 90.456 
z
" clip-path="url(#pc939853afc)" style="fill: #006400"/>
<path d="M 717.336 80.424 
L 718.584 80.424 
L 718.584 90.456 
L 717.336 90.456 
z
" clip-path="url(#pc939853afc)" style="fill: #006400"/>
<path d="M 730.104 80.424 
L 731.016 80.424 
L 731.016 90.456 
L 730.104 90.456 
z
" clip-path="url(#pc939853afc)" style="fill: #006400"/>
<path d="M 754.104 80.424 
L 755.04 80.424 
L 755.04 90.456 
L 754.104 90.456 
z
" clip-path="url(#pc939853afc)" style="fill: #006400"/>
</g>
<g id="matplotlib.axis_1">
<g id="xtick_1"/>
<g id="xtick_2"/>
<g id="xtick_3"/>
<g id="xtick_4"/>
<g id="xtick_5"/>
<g id="xtick_6"/>
</g>
<g id="matplotlib.axis_2">
<g id="ytick_1">
<g id="line2d_1">
<defs>
<path id="m5d545ce8f8" d="M 0 0 
L -3.5 0 
" style="stroke: #000000; stroke-width: 0.8"/>
</defs>
<g>
<use href="#m5d545ce8f8" x="85.08" y="37.56" style="stroke: #000000; stroke-width: 0.8"/>
</g>
</g>
<g id="text_1">
<text x="78.08" y="41.77" text-anchor="end" style="font-family: 'Liberation Sans', 'DejaVu Sans', sans-serif; font-size: 10px; fill: #000000">chirp<tspan dy="1.64" style="font-size: 7px; font-style: italic">lose</tspan></text>
</g>
</g>
<g id="ytick_2">
<g id="line2d_2">
<g>
<use href="#m5d545ce8f8" x="85.08" y="49.56" style="stroke: #000000; stroke-width: 0.8"/>
</g>
</g>
<g id="text_2">
<text x="78.08" y="53.77" text-anchor="end" style="font-family: 'Liberation Sans', 'DejaVu Sans', sans-serif; font-size: 10px; fill: #000000">chirp<tspan dy="1.64" style="font-size: 7px; font-style: italic">win</tspan></text>
</g>
</g>
<g id="ytick_3">
<g id="line2d_3">
<g>
<use href="#m5d545ce8f8" x="85.08" y="73.584" style="stroke: #000000; stroke-width: 0.8"/>
</g>
</g>
<g id="text_3">
<text x="78.08" y="77.79" text-anchor="end" style="font-family: 'Liberation Sans', 'DejaVu Sans', sans-serif; font-size: 10px; fill: #000000">rise<tspan dy="1.64" style="font-size: 7px; font-style: italic">lose</tspan></text>
</g>
</g>
<g id="ytick_4">
<g id="line2d_4">
<g>
<use href="#m5d545ce8f8" x="85.08" y="85.584" style="stroke: #000000; stroke-width: 0.8"/>
</g>
</g>
<g id="text_4">
<text x="78.08" y="89.79" text-anchor="end" style="font-family: 'Liberation Sans', 'DejaVu Sans', sans-serif; font-size: 10px; fill: #000000">rise<tspan dy="1.64" style="font-size: 7px; font-style: italic">win</tspan></text>
</g>
</g>
<g id="ytick_5">
<g id="line2d_5">
<g>
<use href="#m5d545ce8f8" x="85.08" y="109.728" style="stroke: #000000; stroke-width: 0.8"/>
</g>
</g>
<g id="text_5">
<text x="78.08" y="113.53" text-anchor="end" style="font-family: 'Liberation Sans', 'DejaVu Sans', sans-serif; font-size: 10px; fill: #000000">chase</text>
</g>
</g>
<g id="ytick_6">
<g id="line2d_6">
<g>
<use href="#m5d545ce8f8" x="85.08" y="121.752" style="stroke: #000000; stroke-width: 0.8"/>
</g>
</g>
<g id="text_6">
<text x="78.08" y="125.55" text-anchor="end" style="font-family: 'Liberation Sans', 'DejaVu Sans', sans-serif; font-size: 10px; fill: #000000">contact</text>
</g>
</g>
</g>
<g id="patch_3">
<path d="M 85.08 133.8 
L 85.08 25.32 
" style="fill: none; stroke: #000000; stroke-width: 0.8; stroke-linejoin: miter; stroke-linecap: square"/>
</g>
<g id="patch_4">
<path d="M 807.96 133.8 
L 807.96 25.32 
" style="fill: none; stroke: #000000; stroke-width: 0.8; stroke-linejoin: miter; stroke-linecap: square"/>
</g>
<g id="patch_5">
<path d="M 85.08 133.8 
L 807.96 133.8 
" style="fill: none; stroke: #000000; stroke-width: 0.8; stroke-linejoin: miter; stroke-linecap: square"/>
</g>
<g id="patch_6">
<path d="M 85.08 25.32 
L 807.96 25.32 
" style="fill: none; stroke: #000000; stroke-width: 0.8; stroke-linejoin: miter; stroke-linecap: square"/>
</g>
</g>
<g id="axes_2">
<g id="patch_7">
<path d="M 85.08 459 
L 807.96 459 
L 807.96 133.8 
L 85.08 133.8 
z
" style="fill: #ffffff"/>
</g>
<g id="matplotlib.axis_3">
<g id="xtick_7">
<g id="line2d_7">
<defs>
<path id="m1504cfccaf" d="M 0 0 
L 0 3.5 
" style="stroke: #000000; stroke-width: 0.8"/>
</defs>
<g>
<use href="#m1504cfccaf" x="205.8" y="459" style="stroke: #000000; stroke-width: 0.8"/>
</g>
</g>
<g id="text_7">
<text x="205.8" y="474.22" text-anchor="middle" style="font-family: 'Liberation Sans', 'DejaVu Sans', sans-serif; font-size: 10px; fill: #000000">1</text>
</g>
</g>
<g id="xtick_8">
<g id="line2d_8">
<g>
<use href="#m1504cfccaf" x="326.52" y="459" style="stroke: #000000; stroke-width: 0.8"/>
</g>
</g>
<g id="text_8">
<text x="326.52" y="474.22" text-anchor="middle" style="font-family: 'Liberation Sans', 'DejaVu Sans', sans-serif; font-size: 10px; fill: #000000">2</text>
</g>
</g>
<g id="xtick_9">
<g id="line2d_9">
<g>
<use href="#m1504cfccaf" x="447.24" y="459" style="stroke: #000000; stroke-width: 0.8"/>
</g>
</g>
<g id="text_9">
<text x="447.24" y="474.22" text-anchor="middle" style="font-family: 'Liberation Sans', 'DejaVu Sans', sans-serif; font-size: 10px; fill: #000000">3</text>
</g>
</g>
<g id="xtick_10">
<g id="line2d_10">
<g>
<use href="#m1504cfccaf" x="567.96" y="459" style="stroke: #000000; stroke-width: 0.8"/>
</g>
</g>
<g id="text_10">
<text x="567.96" y="474.22" text-anchor="middle" style="font-family: 'Liberation Sans', 'DejaVu Sans', sans-serif; font-size: 10px; fill: #000000">4</text>
</g>
</g>
<g id="xtick_11">
<g id="line2d_11">
<g>
<use href="#m1504cfccaf" x="688.68" y="459" style="stroke: #000000; stroke-width: 0.8"/>
</g>
</g>
<g id="text_11">
<text x="688.68" y="474.22" text-anchor="middle" style="font-family: 'Liberation Sans', 'DejaVu Sans', sans-serif; font-size: 10px; fill: #000000">5</text>
</g>
</g>
</g>
<g id="matplotlib.axis_4">
<g id="ytick_7">
<g id="line2d_12">
<g>
<use href="#m5d545ce8f8" x="85.08" y="443.88" style="stroke: #000000; stroke-width: 0.8"/>
</g>
</g>
<g id="text_12">
<text x="78.08" y="447.68" text-anchor="end" style="font-family: 'Liberation Sans', 'DejaVu Sans', sans-serif; font-size: 10px; fill: #000000">600</text>
</g>
</g>
<g id="ytick_8">
<g id="line2d_13">
<g>
<use href="#m5d545ce8f8" x="85.08" y="406.92" style="stroke: #000000; stroke-width: 0.8"/>
</g>
</g>
<g id="text_13">
<text x="78.08" y="410.72" text-anchor="end" style="font-family: 'Liberation Sans', 'DejaVu Sans', sans-serif; font-size: 10px; fill: #000000">620</text>
</g>
</g>
<g id="ytick_9">
<g id="line2d_14">
<g>
<use href="#m5d545ce8f8" x="85.08" y="369.96" style="stroke: #000000; stroke-width: 0.8"/>
</g>
</g>
<g id="text_14">
<text x="78.08" y="373.76" text-anchor="end" style="font-family: 'Liberation Sans', 'DejaVu Sans', sans-serif; font-size: 10px; fill: #000000">640</text>
</g>
</g>
<g id="ytick_10">
<g id="line2d_15">
<g>
<use href="#m5d545ce8f8" x="85.08" y="333" style="stroke: #000000; stroke-width: 0.8"/>
</g>
</g>
<g id="text_15">
<text x="78.08" y="336.8" text-anchor="end" style="font-family: 'Liberation Sans', 'DejaVu Sans', sans-serif; font-size: 10px; fill: #000000">660</text>
</g>
</g>
<g id="ytick_11">
<g id="line2d_16">
<g>
<use href="#m5d545ce8f8" x="85.08" y="296.04" style="stroke: #000000; stroke-width: 0.8"/>
</g>
</g>
<g id="text_16">
<text x="78.08" y="299.84" text-anchor="end" style="font-family: 'Liberation Sans', 'DejaVu Sans', sans-serif; font-size: 10px; fill: #000000">680</text>
</g>
</g>
<g id="ytick_12">
<g id="line2d_17">
<g>
<use href="#m5d545ce8f8" x="85.08" y="259.08" style="stroke: #000000; stroke-width: 0.8"/>
</g>
</g>
<g id="text_17">
<text x="78.08" y="262.88" text-anchor="end" style="font-family: 'Liberation Sans', 'DejaVu Sans', sans-serif; font-size: 10px; fill: #000000">700</text>
</g>
</g>
<g id="ytick_13">
<g id="line2d_18">
<g>
<use href="#m5d545ce8f8" x="85.08" y="222.12" style="stroke: #000000; stroke-width: 0.8"/>
</g>
</g>
<g id="text_18">
<text x="78.08" y="225.92" text-anchor="end" style="font-family: 'Liberation Sans', 'DejaVu Sans', sans-serif; font-size: 10px; fill: #000000">720</text>
</g>
</g>
<g id="ytick_14">
<g id="line2d_19">
<g>
<use href="#m5d545ce8f8" x="85.08" y="185.16" style="stroke: #000000; stroke-width: 0.8"/>
</g>
</g>
<g id="text_19">
<text x="78.08" y="188.96" text-anchor="end" style="font-family: 'Liberation Sans', 'DejaVu Sans', sans-serif; font-size: 10px; fill: #000000">740</text>
</g>
</g>
<g id="ytick_15">
<g id="line2d_20">
<g>
<use href="#m5d545ce8f8" x="85.08" y="148.2" style="stroke: #000000; stroke-width: 0.8"/>
</g>
</g>
<g id="text_20">
<text x="78.08" y="152" text-anchor="end" style="font-family: 'Liberation Sans', 'DejaVu Sans', sans-serif; font-size: 10px; fill: #000000">760</text>
</g>
</g>
</g>
<g id="line2d_21">
<path d="M 85.104 247.92 
L 85.416 247.525959 
L 85.728 247.44 
L 85.824 225.912 
L 86.016 247.44 
L 86.448 247.649836 
L 86.88 247.2 
L 87.18 247.994625 
L 87.48 248.750546 
L 87.78 248.789879 
L 88.08 249.6 
L 88.44 248.73858 
L 88.8 248.4 
L 89.1 248.694029 
L 89.4 248.08942 
L 89.7 248.09424 
L 90 248.431345 
L 90.3 248.104368 
L 90.6 248.315323 
L 90.9 248.521364 
L 91.2 248.4 
L 91.536 248.109002 
L 91.872 247.591649 
L 92.208 247.459886 
L 92.544 247.44 
L 93.12 249.84 
L 93.42 249.501595 
L 93.72 248.925053 
L 94.02 248.794248 
L 94.32 248.64 
L 94.62 248.959414 
L 94.92 248.483624 
L 95.22 248.472739 
L 95.52 248.64 
L 96.096 254.4 
L 96.48 252.533198 
L 96.864 250.8 
L 97.1712 251.034713 
L 97.4784 250.804824 
L 97.7856 250.634022 
L 98.0928 250.684936 
L 98.4 250.8 
L 98.64 254.88 
L 99.008 255.22162 
L 99.376 254.652699 
L 99.744 254.88 
L 100.08 249.36 
L 100.44 250.134436 
L 100.8 251.28 
L 101.232 253.817131 
L 101.664 256.08 
L 102.072 253.836433 
L 102.48 251.76 
L 102.84 251.612239 
L 103.2 251.52 
L 103.776 255.12 
L 104.16 254.526162 
L 104.544 253.68 
L 104.736 248.88 
L 105.104 247.701726 
L 105.472 246.928492 
L 105.84 246.24 
L 106.16 246.97617 
L 106.48 247.369764 
L 106.8 248.4 
L 107.12 248.58497 
L 107.44 249.060457 
L 107.76 249.84 
L 108.08 249.792416 
L 108.4 250.29585 
L 108.72 250.08 
L 109.04 249.119033 
L 109.36 247.860058 
L 109.68 246.48 
L 109.992 245.257863 
L 110.304 244.08 
L 110.496 227.112 
L 110.676 238.8216 
L 110.88 243.84 
L 111.2 244.504474 
L 111.52 244.481087 
L 111.84 245.04 
L 112.16 245.298778 
L 112.48 245.907432 
L 112.8 246.72 
L 113.16 248.396233 
L 113.52 250.08 
L 113.88 250.418673 
L 114.24 251.04 
L 114.54 251.077272 
L 114.84 251.045319 
L 115.14 251.637214 
L 115.44 251.76 
L 115.74 252.277189 
L 116.04 252.41323 
L 116.34 252.597334 
L 116.64 253.2 
L 116.96 252.831421 
L 117.28 253.067289 
L 117.6 252.72 
L 117.952 251.601607 
L 118.304 250.606677 
L 118.656 249.672 
L 118.896 252.72 
L 119.328 253.382825 
L 119.76 253.68 
L 120.06 253.524554 
L 120.36 253.01973 
L 120.66 252.346154 
L 120.96 252 
L 121.28 252.022458 
L 121.6 252.198575 
L 121.92 252.24 
L 122.304 257.52 
L 122.64 259.92 
L 122.952 257.495148 
L 123.264 255.12 
L 123.616 254.90033 
L 123.968 254.393088 
L 124.32 253.68 
L 124.68 254.093312 
L 125.04 255.12 
L 125.556 253.758 
L 125.664 249.672 
L 125.844 253.8216 
L 126 255.6 
L 126.36 255.950874 
L 126.72 256.56 
L 127.04 256.022678 
L 127.36 255.716166 
L 127.68 255.12 
L 128.04 254.73469 
L 128.4 254.16 
L 128.76 255.370922 
L 129.12 256.56 
L 129.48 256.214554 
L 129.84 256.08 
L 130.16 255.110408 
L 130.48 254.466584 
L 130.8 254.16 
L 131.16 256.161785 
L 131.52 257.76 
L 131.84 256.969767 
L 132.16 256.570089 
L 132.48 256.08 
L 132.852 254.778 
L 132.96 250.872 
L 133.14 254.5176 
L 133.44 256.08 
L 133.76 255.354398 
L 134.08 254.116108 
L 134.4 253.2 
L 134.76 254.910611 
L 135.12 256.56 
L 135.426 254.900014 
L 135.732 253.938 
L 135.84 246.072 
L 136.02 252.7416 
L 136.32 255.6 
L 136.698 254.810169 
L 137.076 254.118 
L 137.184 249.672 
L 137.364 254.4936 
L 137.52 256.56 
L 138 255.12 
L 138.24 259.44 
L 138.56 259.574171 
L 138.88 259.629496 
L 139.2 259.92 
L 139.56 260.365559 
L 139.92 260.64 
L 140.28 260.086322 
L 140.64 259.92 
L 140.96 259.829234 
L 141.28 260.149931 
L 141.6 260.4 
L 141.92 260.336182 
L 142.24 259.979242 
L 142.56 259.92 
L 142.88 260.19744 
L 143.2 260.603225 
L 143.52 260.64 
L 143.84 260.611252 
L 144.16 260.611175 
L 144.48 260.16 
L 144.84 260.235474 
L 145.2 259.92 
L 145.44 256.872 
L 145.68 259.92 
L 146.04 259.935669 
L 146.4 260.16 
L 146.72 260.350171 
L 147.04 260.132944 
L 147.36 259.68 
L 147.68 259.79614 
L 148 259.899533 
L 148.32 259.92 
L 148.68 259.544131 
L 149.04 259.2 
L 149.376 254.64 
L 149.808 253.92012 
L 150.24 253.44 
L 150.56 253.297187 
L 150.88 253.611571 
L 151.2 253.92 
L 151.5 253.904202 
L 151.8 254.381719 
L 152.1 254.579133 
L 152.4 255.12 
L 152.76 256.305925 
L 153.12 257.04 
L 153.48 257.802513 
L 153.84 258 
L 154.32 260.4 
L 154.68 260.69375 
L 155.04 260.4 
L 155.52 261.84 
L 156 262.8 
L 156.32 263.933795 
L 156.64 264.373598 
L 156.96 265.2 
L 157.92 264.24 
L 158.4 267.130036 
L 158.88 267.6 
L 159.24 259.861663 
L 159.6 261.84 
L 160.212 259.098 
L 160.32 250.872 
L 160.5 258.5496 
L 160.656 261.84 
L 161.28 267.6 
L 161.64 267.6 
L 162 262.8 
L 162.36 261.84 
L 162.72 261.84 
L 163.2 265.2 
L 163.632 262.29943 
L 164.064 253.68 
L 164.472 256.08 
L 164.88 254.16 
L 165.36 262.8 
L 165.72 266.64 
L 166.08 265.2 
L 166.56 264.798862 
L 167.04 266.64 
L 167.4 266.27058 
L 167.76 262.8 
L 168.128 260.491914 
L 168.496 262.029488 
L 168.864 259.92 
L 169.2 265.2 
L 169.564 262.903511 
L 169.928 265.2 
L 170.292 263.898 
L 170.4 259.992 
L 170.58 262.9656 
L 170.88 264.24 
L 171.36 262.222332 
L 171.84 261.84 
L 172.24 263.268876 
L 172.64 259.92 
L 173.04 259.92 
L 173.52 265.2 
L 173.88 265.2 
L 174.24 263.28 
L 174.756 256.218 
L 174.864 235.032 
L 175.044 254.4696 
L 175.44 262.8 
L 175.92 259.463999 
L 176.4 261.84 
L 176.826 262.8 
L 177.252 258.678 
L 177.36 249.192 
L 177.54 258.0456 
L 177.84 261.84 
L 178.194 257.346184 
L 178.548 260.478 
L 178.656 256.392 
L 178.836 262.5576 
L 179.28 265.2 
L 179.64 270.48 
L 180 270 
L 180.48 270.48 
L 180.96 264.249222 
L 181.44 264.24 
L 181.866 266.511683 
L 182.292 262.158 
L 182.4 255.912 
L 182.58 260.7336 
L 182.88 262.8 
L 183.36 263.452467 
L 183.84 270.48 
L 184.32 270.291727 
L 184.8 265.2 
L 185.226 262.646479 
L 185.652 263.958 
L 185.76 260.232 
L 185.94 263.7096 
L 186.48 265.2 
L 186.852 264.258 
L 186.96 261.432 
L 187.14 268.1016 
L 187.68 270.96 
L 188.044 270.96 
L 188.408 264.719496 
L 188.772 268.278 
L 188.88 260.232 
L 189.06 263.7096 
L 189.6 265.2 
L 189.96 268.792432 
L 190.32 261.912 
L 190.68 265.193631 
L 191.04 272.88 
L 191.44 272.88 
L 191.84 268.759219 
L 192.24 270 
L 192.572 272.146459 
L 192.904 267.61796 
L 193.236 268.878 
L 193.344 265.512 
L 193.524 268.6536 
L 193.92 270 
L 194.4 272.582668 
L 194.88 272.88 
L 195.36 267.520038 
L 195.84 268.08 
L 196.2 268.26558 
L 196.56 263.28 
L 196.986 258.231132 
L 197.412 260.478 
L 197.52 252.072 
L 197.7 261.2616 
L 198 265.2 
L 198.48 273.36 
L 198.96 272.4 
L 199.32 269.350937 
L 199.68 273.36 
L 200.106 274.522507 
L 200.532 271.698 
L 200.64 266.712 
L 200.82 273.0456 
L 201.21 270.408718 
L 201.6 275.76 
L 202.212 272.058 
L 202.32 260.952 
L 202.5 267.2856 
L 202.704 270 
L 202.848 271.171455 
L 203.652 270.158591 
L 203.76 267.12 
L 203.94 272.40983 
L 204.64142 274.6769 
L 205.278442 271.25833 
L 205.961164 275.302848 
L 206.64 277.2 
L 207.063821 275.20146 
L 207.56191 271.183847 
L 207.96931 275.866684 
L 208.590321 271.16382 
L 208.836 269.852865 
L 208.944 265.92 
L 209.124 269.519389 
L 209.683268 271.061985 
L 210.120005 275.344901 
L 210.763913 271.489131 
L 211.421005 275.737574 
L 212.022177 270.878345 
L 212.645679 276.303773 
L 213.166322 270.988411 
L 213.727628 276.029163 
L 214.291203 270.983979 
L 214.74322 275.857841 
L 215.04 276.96 
L 215.634016 276.795528 
L 216.044753 271.360678 
L 216.708 267.780508 
L 216.816 257.04 
L 216.996 267.252956 
L 217.229125 271.629937 
L 217.956 270.682453 
L 218.064 267.84 
L 218.244 270.952189 
L 218.459622 272.285984 
L 219.127892 277.349245 
L 219.84 278.16 
L 220.272942 277.223733 
L 220.811043 272.806925 
L 221.397444 277.911295 
L 222 278.64 
L 222.628157 277.629895 
L 223.051796 273.389967 
L 223.550121 277.716372 
L 224.031989 274.219711 
L 224.490353 278.682549 
L 225.173862 274.077338 
L 225.732 275.698003 
L 225.84 280.56 
L 226.02 276.362155 
L 226.303839 274.563079 
L 226.85057 279.057527 
L 227.172 276.253145 
L 227.28 267.84 
L 227.46 275.297517 
L 227.95119 278.493595 
L 228.132 275.950196 
L 228.24 268.32 
L 228.42 272.683476 
L 228.636561 274.553537 
L 229.092 273.595153 
L 229.2 270.72 
L 229.38 273.698531 
L 229.648601 274.975045 
L 230.049116 279.712681 
L 230.653352 274.499951 
L 231.301459 278.850723 
L 231.762772 274.584572 
L 232.452 275.838429 
L 232.56 279.6 
L 232.74 276.429113 
L 232.978146 275.070161 
L 233.796 274.342621 
L 233.904 272.16 
L 234.084 277.578464 
L 234.529889 279.900663 
L 235.20965 275.118194 
L 235.670713 280.745165 
L 236.314191 275.025894 
L 236.99527 280.451231 
L 237.348 278.258423 
L 237.456 271.68 
L 237.636 278.488776 
L 238.107173 281.406823 
L 238.692 282.035117 
L 238.8 283.92 
L 239.421798 281.733663 
L 239.899114 276.279441 
L 240.360621 280.976519 
L 240.756 278.95239 
L 240.864 272.88 
L 241.044 279.080745 
L 241.496145 281.738207 
L 242.012015 275.778661 
L 242.532 277.573996 
L 242.64 282.96 
L 242.82 278.428142 
L 243.136619 276.485917 
L 243.828 275.824438 
L 243.936 273.84 
L 244.116 276.094366 
L 244.257391 277.060523 
L 244.751207 281.701932 
L 245.04 281.04 
L 245.660094 281.116071 
L 246.468 279.177053 
L 246.576 273.36 
L 246.756 276.334691 
L 247.256867 277.609559 
L 247.710642 282.031847 
L 248.052 276.923886 
L 248.16 261.6 
L 248.34 275.833111 
L 248.687722 281.933016 
L 249.280191 277.023992 
L 249.732 278.387994 
L 249.84 282.48 
L 250.02 278.609329 
L 250.196557 276.950469 
L 250.8 275.76 
L 251.268523 277.603311 
L 251.652 278.822483 
L 251.76 282.48 
L 251.94 279.181646 
L 252.46543 277.768066 
L 252.852 276.246049 
L 252.96 271.68 
L 253.14 275.402082 
L 253.510515 276.99726 
L 253.97263 282.679606 
L 254.532 280.589705 
L 254.64 274.32 
L 254.82 280.333514 
L 255.049234 282.910735 
L 255.534574 277.857573 
L 255.732 279.13318 
L 255.84 282.96 
L 256.02 278.601226 
L 256.212 276.73318 
L 256.32 273.36 
L 256.5 276.226911 
L 256.704231 277.455587 
L 257.331246 283.153716 
L 257.748 277.885287 
L 257.856 262.08 
L 258.036 277.105676 
L 258.250311 283.545251 
L 258.612 281.358938 
L 258.72 274.8 
L 258.9 280.969761 
L 259.205311 283.613945 
L 259.75537 278.391987 
L 260.172191 283.155429 
L 260.532 283.826572 
L 260.64 285.84 
L 261.232782 284.030932 
L 261.894619 279.126329 
L 262.333286 284.404197 
L 262.925401 278.697628 
L 263.412 277.363221 
L 263.52 273.36 
L 263.7 276.533201 
L 264.015405 277.893144 
L 264.516821 284.565775 
L 265.2 282.48 
L 265.585029 284.770592 
L 266.178482 278.786637 
L 266.592548 285.909838 
L 267.012 283.792378 
L 267.12 277.44 
L 267.3 283.036068 
L 267.638143 285.434382 
L 268.08 286.32 
L 268.472263 286.543259 
L 269.064846 280.730865 
L 269.593123 286.457394 
L 270.132 284.443046 
L 270.24 278.4 
L 270.42 283.556533 
L 270.666831 285.766476 
L 271.346905 280.410191 
L 271.731861 286.348909 
L 272.256847 281.501979 
L 272.841457 287.222983 
L 273.36 288 
L 273.54 282.841684 
L 273.732 280.630978 
L 273.84 277.92 
L 274.02 280.829471 
L 274.49506 282.076387 
L 275.083398 287.383088 
L 275.722181 281.550251 
L 276.132 283.042689 
L 276.24 287.52 
L 276.42 285.737303 
L 276.852 284.97329 
L 276.96 277.44 
L 277.14 284.916235 
L 277.305845 288.120335 
L 277.826806 281.722873 
L 278.532 278.492155 
L 278.64 268.8 
L 278.82 282.179505 
L 279.412536 287.913579 
L 280.08 288.48 
L 280.642995 287.643544 
L 281.174667 283.029258 
L 281.62804 288.662722 
L 282.198977 282.78011 
L 282.612 284.325082 
L 282.72 288.96 
L 282.9 284.346669 
L 283.402289 282.369527 
L 284.088138 288.764198 
L 284.292 286.233149 
L 284.4 278.64 
L 284.58 285.42179 
L 285.243774 288.328272 
L 285.84 289.68 
L 286.57708 288.575456 
L 287.053294 283.367437 
L 287.471393 288.363451 
L 288.055659 282.908424 
L 288.612 278.541318 
L 288.72 265.44 
L 288.9 277.858138 
L 289.039991 283.180197 
L 289.51683 288.921341 
L 289.94669 284.152859 
L 290.471267 289.192662 
L 291.034193 283.617281 
L 291.252 282.85296 
L 291.36 280.56 
L 291.54 286.863731 
L 291.696349 289.565331 
L 292.25105 285.038191 
L 292.678477 289.009002 
L 293.028 284.256752 
L 293.136 270 
L 293.316 283.501863 
L 293.859232 289.288376 
L 294.537254 284.882177 
L 294.852 286.141633 
L 294.96 289.92 
L 295.14 286.26732 
L 295.589087 284.701886 
L 296.251961 289.895906 
L 296.771359 284.852534 
L 297.205197 289.779443 
L 297.712543 285.795791 
L 298.110019 289.596905 
L 298.452 286.557678 
L 298.56 277.44 
L 298.74 286.21394 
L 299.049742 289.9742 
L 299.574419 285.209479 
L 300.254254 290.320645 
L 300.705277 285.79258 
L 301.154681 290.810331 
L 301.724391 285.915717 
L 302.142068 291.040285 
L 302.532 291.720214 
L 302.64 293.76 
L 302.82 285.969595 
L 303.252 282.63085 
L 303.36 272.88 
L 303.54 281.945386 
L 303.957695 285.830551 
L 304.452 284.992914 
L 304.56 282.48 
L 304.74 287.913264 
L 305.374334 290.241806 
L 305.831589 286.366769 
L 306.450351 290.581678 
L 306.96 291.84 
L 307.657314 290.918376 
L 308.0428 285.572516 
L 308.580803 291.203914 
L 309.012 288.902936 
L 309.12 282 
L 309.3 288.417254 
L 309.591051 291.167506 
L 310.09873 286.515501 
L 310.499377 290.82915 
L 311.095266 286.044316 
L 311.412 285.093237 
L 311.52 282.24 
L 311.7 285.230557 
L 312.283396 286.512225 
L 312.88645 291.292684 
L 313.54792 286.03916 
L 313.938918 292.532262 
L 314.436494 286.143564 
L 314.772 284.567673 
L 314.88 279.84 
L 315.06 284.468067 
L 315.406251 286.451524 
L 315.972 285.458643 
L 316.08 282.48 
L 316.26 285.54747 
L 316.544102 286.8621 
L 317.168143 291.73679 
L 317.632009 287.702802 
L 318.151683 292.914427 
L 318.585284 286.84981 
L 319.222577 293.196278 
L 319.68 294.24 
L 320.315329 293.334836 
L 320.716872 287.129527 
L 321.12 284.16 
L 321.648 287.188012 
L 321.972 286.491009 
L 322.08 284.4 
L 322.26 286.501995 
L 322.753158 287.402849 
L 323.290892 293.384222 
L 323.818861 288.0099 
L 324.391864 293.358643 
L 324.852 291.718982 
L 324.96 286.8 
L 325.14 291.883536 
L 325.575547 294.062195 
L 326.254257 287.078598 
L 326.823944 294.445321 
L 327.415505 288.195041 
L 328.068594 293.364763 
L 328.59163 288.593313 
L 329.264021 294.230342 
L 329.556 292.192756 
L 329.664 286.08 
L 329.844 291.497209 
L 330.223602 293.81887 
L 330.734261 289.603686 
L 331.385704 294.735203 
L 331.92 295.68 
L 332.1 290.472 
L 332.4 288.24 
L 333.026321 288.929328 
L 333.596193 295.595555 
L 334.167274 289.065651 
L 334.548 291.019238 
L 334.656 296.88 
L 334.836 294.081697 
L 335.172 292.882424 
L 335.28 285.6 
L 335.46 293.037235 
L 335.691151 296.224622 
L 336.20084 290.619867 
L 336.647912 296.24391 
L 336.948 292.562933 
L 337.056 281.52 
L 337.236 291.441397 
L 337.812 289.561047 
L 337.92 283.92 
L 338.1 292.283041 
L 338.658094 295.867201 
L 339.121283 290.014664 
L 339.636 289.150998 
L 339.744 286.56 
L 339.924 289.101359 
L 340.368415 290.190512 
L 340.947892 296.627176 
L 341.353023 290.286403 
L 341.841457 297.57755 
L 342.227954 290.009533 
L 342.468 286.207149 
L 342.576 274.8 
L 342.756 286.673185 
L 343.280849 291.761693 
L 343.572 293.10127 
L 343.68 297.12 
L 344.532 294.910096 
L 344.64 289.92 
L 345.252 292.02 
L 345.36 298.32 
L 346.003193 297.359636 
L 346.596 294.779727 
L 346.704 287.04 
L 346.884 294.309746 
L 347.209843 297.425351 
L 347.76 298.08 
L 347.94 293.544 
L 348.48 291.6 
L 348.870497 292.144602 
L 349.447436 298.319991 
L 350.010659 292.653271 
L 350.691022 297.453521 
L 351.111278 291.893085 
L 351.636 290.439814 
L 351.744 286.08 
L 351.924 290.194549 
L 352.039774 291.957928 
L 352.524228 296.894679 
L 353.172 295.151009 
L 353.28 289.92 
L 353.46 295.638393 
L 353.756132 298.089132 
L 354.436339 292.751052 
L 355.095701 298.179894 
L 355.721482 291.787637 
L 356.532 293.420728 
L 356.64 298.32 
L 356.82 294.206051 
L 357.08025 292.44293 
L 357.660763 297.428022 
L 358.125826 292.960859 
L 358.452 291.660644 
L 358.56 287.76 
L 358.74 291.369063 
L 359.52 289.68 
L 359.7 294.939737 
L 359.892 295.904803 
L 360 298.8 
L 360.18 295.000633 
L 360.5567 293.372333 
L 361.44 293.28 
L 361.62 297.014278 
L 362.215533 298.614682 
L 362.868 296.441012 
L 362.976 289.92 
L 363.156 292.213803 
L 363.675771 293.196861 
L 363.972 290.997646 
L 364.08 284.4 
L 364.26 290.690784 
L 364.759725 293.386834 
L 365.226445 298.867869 
L 365.412 296.930902 
L 365.52 291.12 
L 365.7 296.35677 
L 366.132 297.207578 
L 366.24 299.76 
L 366.42 294.890165 
L 366.802238 292.803093 
L 367.432191 298.442052 
L 367.829209 293.404598 
L 368.388 288.033448 
L 368.496 271.92 
L 368.676 290.283197 
L 369.142535 298.153138 
L 369.633235 292.768556 
L 370.08 292.8 
L 370.774952 293.134414 
L 371.263023 299.367461 
L 371.7051 293.528073 
L 372.132 292.626054 
L 372.24 289.92 
L 372.42 292.454382 
L 372.798863 293.540546 
L 373.239145 299.042389 
L 373.829295 294.056994 
L 374.16 292.8 
L 374.783553 293.863539 
L 375.236793 300.411965 
L 375.665356 294.682504 
L 376.087735 300.353259 
L 376.692 298.764944 
L 376.8 294 
L 377.650634 294.624781 
L 378.267751 300.445632 
L 378.85805 295.496213 
L 379.314738 300.45799 
L 379.90982 295.521226 
L 380.483728 300.991495 
L 380.772 298.823621 
L 380.88 292.32 
L 381.06 298.301571 
L 381.589973 300.865102 
L 382.464 302.16 
L 382.776342 300.450688 
L 383.210543 296.032724 
L 383.598869 301.241015 
L 383.892 299.670761 
L 384 294.96 
L 384.18 299.360482 
L 384.644093 301.246403 
L 385.228289 295.558322 
L 385.92 294.48 
L 386.308592 295.577164 
L 386.768051 301.014065 
L 387.188393 295.719859 
L 387.833423 300.309331 
L 388.32 302.64 
L 389.058602 300.58747 
L 389.652297 295.314248 
L 390.169695 301.424474 
L 390.730506 295.76603 
L 391.2 294.72 
L 391.92093 295.378279 
L 392.64 294.48 
L 393.137056 296.505763 
L 393.77963 301.684003 
L 394.441395 295.517658 
L 394.929594 301.552196 
L 395.568898 295.795765 
L 396.007818 300.711111 
L 396.405764 296.203909 
L 396.918178 301.839506 
L 397.386606 296.373567 
L 397.68 294.48 
L 397.86 299.656862 
L 398.023645 301.875516 
L 398.605406 297.006216 
L 398.990924 301.92484 
L 399.633855 297.364732 
L 399.828 296.643549 
L 399.936 294.48 
L 400.116 296.799433 
L 400.633445 297.793475 
L 401.30683 301.426188 
L 402 303.36 
L 402.435878 302.152797 
L 403.056007 297.955842 
L 403.572 297.206881 
L 403.68 294.96 
L 403.86 297.714379 
L 404.141447 298.894826 
L 404.719367 302.653911 
L 405.395036 298.909974 
L 405.913374 302.860687 
L 406.608996 299.493121 
L 406.995031 302.629297 
L 407.492125 299.033052 
L 408.24 299.04 
L 408.42 302.055974 
L 408.852 303.10198 
L 408.96 306.24 
L 409.14 301.295338 
L 409.274752 299.176198 
L 409.910499 303.591588 
L 410.592688 299.725836 
L 411.012644 303.794541 
L 411.732 302.905906 
L 411.84 300.24 
L 412.02 303.049569 
L 412.232115 304.25367 
L 412.899942 299.971831 
L 413.463167 303.408352 
L 413.973537 300.08954 
L 414.48 297.84 
L 415.173922 300.111934 
L 415.825622 304.379675 
L 416.64 305.52 
L 416.82 301.600762 
L 417.277216 299.921089 
L 417.972 299.100817 
L 418.08 296.64 
L 418.26 299.355659 
L 418.487685 300.519513 
L 419.125383 305.007738 
L 419.709416 300.27513 
L 420.172453 304.389514 
L 420.836421 301.019725 
L 421.368154 304.647303 
L 421.812 302.225477 
L 421.92 294.96 
L 422.1 302.450811 
L 422.376356 305.661159 
L 422.772 302.985869 
L 422.88 294.96 
L 423.06 301.931481 
L 423.687498 304.919258 
L 424.317297 301.562711 
L 424.795853 305.947015 
L 425.172 306.560261 
L 425.28 308.4 
L 425.46 303.528 
L 426.24 301.44 
L 426.616398 301.786185 
L 427.249348 306.016336 
L 427.914121 302.452334 
L 428.256 300.24 
L 429.032738 302.106482 
L 429.580791 305.836959 
L 430.077901 301.652863 
L 430.48071 306.234222 
L 431.032514 301.758868 
L 431.523275 306.686944 
L 432.276 305.075208 
L 432.384 300.24 
L 432.564 304.980818 
L 432.718978 307.012598 
L 433.351078 301.967461 
L 433.785482 306.961181 
L 434.290499 302.060588 
L 434.811061 307.041679 
L 435.012 305.581259 
L 435.12 301.2 
L 435.3 306.003687 
L 435.925832 308.06241 
L 436.339655 302.403094 
L 436.973781 307.964717 
L 437.422143 302.420759 
L 437.889717 308.253123 
L 438.612 308.949842 
L 438.72 311.04 
L 438.9 308.916544 
L 439.169339 308.006491 
L 439.572 306.184868 
L 439.68 300.72 
L 439.86 306.011628 
L 440.056614 308.279469 
L 440.4 300.24 
L 440.88 307.44 
L 441.24 305.7784 
L 441.6 303.6 
L 441.96 302.788352 
L 442.32 302.16 
L 442.68 301.479693 
L 443.04 300.72 
L 443.4 302.008073 
L 443.76 302.64 
L 444.048 302.16 
L 444.228 296.118 
L 444.336 277.992 
L 444.516 294.9096 
L 444.72 302.16 
L 445.08 301.730402 
L 445.44 300.96 
L 445.8 300.827668 
L 446.16 300.24 
L 446.52 300.432782 
L 446.88 301.2 
L 447.24 301.388511 
L 447.6 300.96 
L 448.08 301.68 
L 448.56 299.52 
L 449.04 301.44 
L 449.4 301.878559 
L 449.76 302.16 
L 450.12 302.469518 
L 450.48 302.64 
L 450.84 302.946085 
L 451.2 303.84 
L 451.56 302.408534 
L 451.92 301.2 
L 452.28 300.717182 
L 452.64 300 
L 453 300.438034 
L 453.36 300.96 
L 453.72 301.717071 
L 454.08 302.4 
L 454.44 301.706673 
L 454.8 300.72 
L 455.16 301.264369 
L 455.52 301.68 
L 456 303.84 
L 456.36 303.275952 
L 456.72 303.36 
L 457.08 303.28449 
L 457.44 303.12 
L 457.8 304.271778 
L 458.16 305.04 
L 458.64 306.24 
L 459 305.935854 
L 459.36 305.04 
L 459.72 303.666895 
L 460.08 302.88 
L 460.56 301.68 
L 460.896 302.16 
L 461.04 263.352 
L 461.22 287.8296 
L 461.52 298.32 
L 461.988 291.018 
L 462.096 269.112 
L 462.276 289.2216 
L 462.576 297.84 
L 462.888 298.129815 
L 463.2 297.84 
L 463.68 301.2 
L 464.16 301.68 
L 464.52 301.051891 
L 464.88 300.48 
L 465.24 300.685453 
L 465.6 300.96 
L 465.96 300.239586 
L 466.32 298.8 
L 466.68 298.916945 
L 467.04 299.52 
L 467.52 297.84 
L 468.096 297.12 
L 468.408 298.230747 
L 468.72 299.04 
L 469.08 299.035649 
L 469.44 299.52 
L 469.92 302.64 
L 470.28 302.143759 
L 470.64 301.2 
L 470.96 301.585306 
L 471.28 302.665118 
L 471.6 303.36 
L 471.96 301.55988 
L 472.32 300.24 
L 472.68 299.622055 
L 473.04 299.28 
L 473.4 299.672445 
L 473.76 300.72 
L 474.192 301.2 
L 474.384 271.272 
L 474.564 290.2056 
L 474.864 298.32 
L 475.44 301.68 
L 475.824 304.08 
L 476.4 302.16 
L 476.76 302.211775 
L 477.12 302.64 
L 477.6 300.24 
L 478.176 299.28 
L 478.56 304.56 
L 479.04 306.24 
L 479.52 306 
L 479.88 304.205881 
L 480.24 302.16 
L 480.6 301.883316 
L 480.96 301.2 
L 481.32 300.860545 
L 481.68 300.24 
L 482.16 299.28 
L 482.64 300.24 
L 483 300.836847 
L 483.36 301.68 
L 483.84 303.6 
L 484.32 304.56 
L 484.8 302.64 
L 485.376 300.96 
L 485.688 302.515703 
L 486 304.08 
L 486.48 305.28 
L 486.84 304.697367 
L 487.2 304.08 
L 487.56 302.97495 
L 487.92 302.16 
L 488.196 300.858 
L 488.304 296.952 
L 488.484 299.9256 
L 488.784 301.2 
L 488.916 294.678 
L 489.024 275.112 
L 489.204 290.6856 
L 489.456 297.36 
L 489.768 298.053438 
L 490.08 298.8 
L 490.44 300.349045 
L 490.8 301.2 
L 491.28 298.32 
L 491.592 297.600817 
L 491.904 296.88 
L 492.48 298.32 
L 492.96 301.2 
L 493.32 301.606612 
L 493.68 302.16 
L 494.16 300.24 
L 494.64 299.28 
L 495.12 302.16 
L 495.6 303.6 
L 495.96 304.724092 
L 496.32 305.52 
L 496.704 305.04 
L 496.896 263.832 
L 497.076 288.3096 
L 497.424 298.8 
L 498 303.6 
L 498.36 302.661598 
L 498.72 301.2 
L 499.032 300.258842 
L 499.344 300 
L 499.92 305.04 
L 500.4 304.56 
L 500.88 300 
L 501.24 299.848812 
L 501.6 300 
L 501.96 300.80813 
L 502.32 301.2 
L 502.8 300 
L 503.28 302.64 
L 503.64 301.769126 
L 504 300.96 
L 504.36 300.724989 
L 504.72 301.2 
L 505.2 303.36 
L 505.56 302.461922 
L 505.92 301.68 
L 506.28 303.238086 
L 506.64 305.04 
L 507 303.67499 
L 507.36 302.16 
L 507.72 302.873727 
L 508.08 303.84 
L 508.44 303.586501 
L 508.8 302.64 
L 509.16 301.143527 
L 509.52 299.52 
L 509.88 299.014386 
L 510.24 299.04 
L 510.6 299.415104 
L 510.96 299.76 
L 511.32 300.137744 
L 511.68 300.72 
L 512.16 300.48 
L 512.64 306 
L 513.12 305.28 
L 513.6 302.16 
L 514.08 301.2 
L 514.392 302.1708 
L 514.704 303.84 
L 515.28 303.12 
L 515.64 303.18943 
L 516 303.84 
L 516.36 303.204649 
L 516.72 302.16 
L 517.2 301.44 
L 517.68 304.08 
L 518.04 304.267442 
L 518.4 304.56 
L 518.76 304.222525 
L 519.12 304.32 
L 519.44 304.089353 
L 519.76 303.781008 
L 520.08 303.36 
L 520.56 300.48 
L 521.04 300 
L 521.52 302.88 
L 521.88 301.634906 
L 522.24 300.72 
L 522.72 300 
L 523.08 299.733469 
L 523.44 300 
L 523.92 300 
L 524.496 303.12 
L 524.808 304.780361 
L 525.12 306.48 
L 525.48 306.521251 
L 525.84 306.72 
L 526.2 305.571658 
L 526.56 304.56 
L 527.04 305.04 
L 527.328 307.2 
L 527.52 273.432 
L 527.7 296.2296 
L 528 306 
L 528.36 305.670827 
L 528.72 305.52 
L 529.08 304.410366 
L 529.44 303.6 
L 529.8 303.158075 
L 530.16 302.64 
L 530.64 303.36 
L 531 302.230454 
L 531.36 301.2 
L 531.84 300.24 
L 532.32 301.68 
L 532.8 302.88 
L 533.16 302.484308 
L 533.52 301.68 
L 533.88 301.584557 
L 534.24 301.2 
L 534.72 303.6 
L 535.2 306 
L 535.68 306 
L 536.16 303.12 
L 536.52 304.279015 
L 536.88 305.04 
L 537.24 303.687237 
L 537.6 302.64 
L 537.96 303.271426 
L 538.32 304.32 
L 538.68 303.242962 
L 539.04 302.16 
L 539.52 301.2 
L 540 302.16 
L 540.36 302.37585 
L 540.72 303.12 
L 541.2 305.04 
L 541.392 278.712 
L 541.572 297.1416 
L 541.92 305.04 
L 542.28 304.083382 
L 542.64 303.6 
L 543.12 303.36 
L 543.6 305.76 
L 543.96 305.816734 
L 544.32 306.24 
L 544.68 306.150718 
L 545.04 306.72 
L 545.52 304.08 
L 545.88 303.762999 
L 546.24 303.84 
L 546.6 304.290527 
L 546.96 304.56 
L 547.32 304.296713 
L 547.68 303.84 
L 547.992 305.183717 
L 548.304 306.48 
L 548.88 307.68 
L 549.36 308.4 
L 549.636 299.358 
L 549.744 272.232 
L 549.924 297.5496 
L 550.32 308.4 
L 550.68 306.289478 
L 551.04 303.84 
L 551.52 306.48 
L 551.88 305.746919 
L 552.24 304.56 
L 552.6 303.869896 
L 552.96 303.36 
L 553.32 303.579544 
L 553.68 303.36 
L 554.04 305.193348 
L 554.4 306.48 
L 554.88 303.6 
L 555.36 299.52 
L 555.84 302.16 
L 556.2 301.38256 
L 556.56 300.48 
L 556.92 301.19221 
L 557.28 301.68 
L 557.76 305.52 
L 558.12 305.369114 
L 558.48 305.52 
L 558.792 303.999624 
L 559.104 302.64 
L 559.2 305.76 
L 559.68 302.4 
L 560.04 302.01166 
L 560.4 302.16 
L 560.712 302.433224 
L 561.024 303.12 
L 561.36 307.2 
L 561.72 307.623639 
L 562.08 307.68 
L 562.44 308.456787 
L 562.8 309.12 
L 563.28 308.16 
L 563.412 301.758 
L 563.52 282.552 
L 563.7 300.4776 
L 563.904 308.16 
L 564.48 308.64 
L 564.96 306.24 
L 565.32 306.094919 
L 565.68 305.76 
L 566.016 309.6 
L 566.148 304.518 
L 566.256 289.272 
L 566.436 302.8296 
L 566.64 308.64 
L 567 307.529445 
L 567.36 305.76 
L 567.72 306.667862 
L 568.08 308.16 
L 568.392 307.171963 
L 568.704 306.72 
L 569.28 303.84 
L 569.556 298.638 
L 569.664 283.032 
L 569.844 296.5896 
L 570.144 302.4 
L 570.624 306.24 
L 571.2 304.8 
L 571.56 304.612806 
L 571.92 304.56 
L 572.4 308.88 
L 572.76 308.800358 
L 573.12 309.12 
L 573.48 307.942748 
L 573.84 306.72 
L 574.32 305.52 
L 574.68 307.198017 
L 575.04 308.4 
L 575.4 307.875035 
L 575.76 307.2 
L 576.12 307.81348 
L 576.48 308.88 
L 577.056 309.6 
L 577.344 305.592 
L 577.68 307.030542 
L 578.016 308.64 
L 578.328 308.244096 
L 578.64 308.16 
L 579.12 304.8 
L 579.48 304.466385 
L 579.84 303.84 
L 580.2 302.582735 
L 580.56 301.68 
L 581.04 304.8 
L 581.4 306.068202 
L 581.76 306.96 
L 582.336 308.4 
L 582.816 303.36 
L 583.2 302.88 
L 583.776 307.92 
L 584.256 302.88 
L 584.568 303.679479 
L 584.88 304.8 
L 585.192 305.912487 
L 585.504 307.68 
L 585.912 306.07864 
L 586.32 303.84 
L 586.68 304.811692 
L 587.04 305.76 
L 587.4 307.253655 
L 587.76 308.4 
L 588.24 305.76 
L 588.56 305.270855 
L 588.88 304.996355 
L 589.2 304.08 
L 589.56 304.554901 
L 589.92 305.52 
L 590.28 305.820681 
L 590.64 306.24 
L 590.976 303.36 
L 591.288 304.079534 
L 591.6 304.8 
L 591.96 306.131411 
L 592.32 307.2 
L 592.68 307.495365 
L 593.04 307.44 
L 593.448 305.67291 
L 593.856 304.56 
L 594.168 307.127519 
L 594.48 309.6 
L 594.96 311.28 
L 595.32 310.525495 
L 595.68 309.12 
L 596.256 306.24 
L 596.688 306.984165 
L 597.12 307.2 
L 597.432 305.66831 
L 597.744 304.56 
L 598.32 306.24 
L 598.68 307.280082 
L 599.04 308.16 
L 599.4 308.343775 
L 599.76 308.64 
L 600.072 308.844198 
L 600.384 309.12 
L 600.516 302.778 
L 600.624 283.752 
L 600.804 301.1736 
L 601.056 308.64 
L 601.368 307.111684 
L 601.68 306.24 
L 602.04 305.884929 
L 602.4 306.24 
L 602.76 306.366012 
L 603.12 306.48 
L 603.6 310.56 
L 604.08 312 
L 604.44 310.719967 
L 604.8 309.6 
L 605.376 307.2 
L 605.688 307.976416 
L 606 308.64 
L 606.36 309.112703 
L 606.72 310.08 
L 607.296 312.48 
L 607.608 312.04324 
L 607.92 311.04 
L 608.256 310.56 
L 608.448 292.632 
L 608.628 303.8376 
L 608.88 308.64 
L 609.192 307.80799 
L 609.504 307.68 
L 610.08 303.84 
L 610.656 305.76 
L 610.968 307.629703 
L 611.28 309.12 
L 611.592 310.156601 
L 611.904 310.8 
L 612.48 307.68 
L 612.912 306.41241 
L 613.344 305.04 
L 613.92 306.72 
L 614.28 308.266673 
L 614.64 309.12 
L 615 307.086248 
L 615.36 305.76 
L 615.72 304.900945 
L 616.08 304.56 
L 616.56 307.68 
L 616.92 309.153806 
L 617.28 311.04 
L 617.856 311.28 
L 618.168 309.69647 
L 618.48 308.16 
L 618.96 307.2 
L 619.272 308.861841 
L 619.584 310.08 
L 620.16 308.16 
L 620.52 307.272861 
L 620.88 306.24 
L 621.36 307.2 
L 621.492 305.898 
L 621.6 301.992 
L 621.78 307.6536 
L 621.984 310.08 
L 622.56 309.12 
L 623.136 310.8 
L 623.568 308.937764 
L 624 307.2 
L 624.36 308.305695 
L 624.72 309.6 
L 625.032 310.335739 
L 625.344 310.8 
L 625.92 309.12 
L 626.352 307.767554 
L 626.784 306.24 
L 627.36 309.36 
L 627.72 307.768246 
L 628.08 305.76 
L 628.44 306.66166 
L 628.8 308.16 
L 629.12 306.821202 
L 629.44 306.047958 
L 629.76 305.112 
L 630.12 306.618697 
L 630.48 308.16 
L 630.84 306.911439 
L 631.2 305.28 
L 631.68 308.64 
L 632.04 309.165173 
L 632.4 309.6 
L 632.76 309.632435 
L 633.12 310.08 
L 633.48 310.021285 
L 633.84 309.36 
L 634.32 312.96 
L 634.656 313.68 
L 634.968 312.856462 
L 635.28 312.48 
L 635.712 312.48 
L 635.904 283.272 
L 636.084 303.7176 
L 636.384 312.48 
L 636.96 307.92 
L 637.28 308.450433 
L 637.6 309.101555 
L 637.92 310.08 
L 638.496 308.16 
L 638.808 307.456682 
L 639.12 307.2 
L 639.48 308.064264 
L 639.84 308.64 
L 640.2 308.4484 
L 640.56 308.16 
L 640.92 309.516286 
L 641.28 310.56 
L 641.712 308.520553 
L 642.144 306.96 
L 642.72 307.68 
L 643.08 307.904947 
L 643.44 308.16 
L 643.92 312.48 
L 644.28 310.568133 
L 644.64 308.16 
L 645 307.95766 
L 645.36 307.68 
L 645.72 307.589665 
L 646.08 306.96 
L 646.44 307.951698 
L 646.8 309.6 
L 647.112 310.646108 
L 647.424 312 
L 647.904 304.8 
L 648.384 304.32 
L 648.516 300.978 
L 648.624 290.952 
L 648.804 301.9896 
L 649.056 306.72 
L 649.368 306.819845 
L 649.68 307.2 
L 650.16 313.44 
L 650.466 313.076349 
L 650.772 312.198 
L 650.88 308.472 
L 651.06 311.9496 
L 651.264 313.44 
L 651.84 311.04 
L 652.16 311.283227 
L 652.48 311.093581 
L 652.8 311.28 
L 653.28 312.96 
L 653.856 314.64 
L 654.168 313.028257 
L 654.48 311.52 
L 654.8 311.280037 
L 655.12 310.266077 
L 655.44 310.08 
L 655.752 310.939986 
L 656.064 312.24 
L 656.64 310.8 
L 657 312.926403 
L 657.36 315.36 
L 657.696 315.84 
L 658.176 311.112 
L 658.656 314.4 
L 658.788 306.558 
L 658.896 283.032 
L 659.076 304.9896 
L 659.328 314.4 
L 659.664 315.282718 
L 660 316.08 
L 660.48 316.32 
L 661.056 313.44 
L 661.368 311.762602 
L 661.68 310.56 
L 662.04 309.862729 
L 662.4 309.6 
L 662.76 308.700432 
L 663.12 307.2 
L 663.432 306.299954 
L 663.744 306 
L 664.32 309.12 
L 664.8 312.96 
L 665.16 313.55611 
L 665.52 314.16 
L 665.832 312.174747 
L 666.144 310.08 
L 666.72 311.52 
L 667.08 311.915387 
L 667.44 312.96 
L 667.8 314.128884 
L 668.16 314.64 
L 668.64 312.48 
L 668.88 306.72 
L 669.36 309.6 
L 669.84 308.88 
L 670.32 313.92 
L 670.68 313.798931 
L 671.04 314.16 
L 671.4 313.974536 
L 671.76 314.4 
L 672.12 312.414158 
L 672.48 310.08 
L 672.84 311.591055 
L 673.2 312.96 
L 673.512 311.769169 
L 673.824 310.08 
L 674.4 314.4 
L 674.76 315.377674 
L 675.12 315.84 
L 675.6 308.16 
L 676.08 307.68 
L 676.392 308.688676 
L 676.704 309.12 
L 677.184 314.4 
L 677.544 315.915077 
L 677.904 317.28 
L 678 313.44 
L 678.576 317.28 
L 678.888 316.684741 
L 679.2 316.56 
L 679.56 318.11652 
L 679.92 319.2 
L 680.352 316.510437 
L 680.784 314.16 
L 681.36 316.8 
L 681.936 314.64 
L 682.296 317.018267 
L 682.656 319.68 
L 682.968 317.729181 
L 683.28 316.32 
L 683.856 314.16 
L 684.168 316.255847 
L 684.48 318.72 
L 684.84 319.0219 
L 685.2 319.2 
L 685.56 318.548101 
L 685.92 318.24 
L 686.28 316.708024 
L 686.64 315.6 
L 687 316.125487 
L 687.36 316.08 
L 687.84 318 
L 688.32 315.12 
L 688.68 315.427281 
L 689.04 316.32 
L 689.4 314.910415 
L 689.76 313.92 
L 690.096 314.88 
L 690.324 313.398 
L 690.432 308.952 
L 690.612 312.7656 
L 690.768 314.4 
L 691.344 314.16 
L 691.92 317.28 
L 692.4 319.68 
L 692.76 319.100761 
L 693.12 318.24 
L 693.36 315.6 
L 693.72 317.556756 
L 694.08 319.2 
L 694.56 319.2 
L 695.04 314.88 
L 695.52 314.16 
L 695.832 316.486644 
L 696.144 318.72 
L 696.624 318.24 
L 697.2 319.2 
L 697.776 314.4 
L 698.088 313.881891 
L 698.4 312.72 
L 698.736 312.24 
L 699.048 313.537205 
L 699.36 314.16 
L 699.672 313.41829 
L 699.984 312.48 
L 700.344 312.110132 
L 700.704 311.76 
L 701.28 314.88 
L 701.76 319.68 
L 702.24 319.68 
L 702.552 317.585531 
L 702.864 315.36 
L 703.296 314.16 
L 703.608 315.237091 
L 703.92 316.32 
L 704.28 318.110221 
L 704.64 319.2 
L 705 319.088462 
L 705.36 318.48 
L 705.936 319.68 
L 706.248 319.613003 
L 706.56 319.44 
L 707.04 313.68 
L 707.376 309.6 
L 707.76 310.08 
L 708.144 314.88 
L 708.552 315.471095 
L 708.96 315.6 
L 709.44 316.32 
L 709.752 315.614752 
L 710.064 314.4 
L 710.64 318.24 
L 710.952 318.773493 
L 711.264 319.68 
L 711.6 310.08 
L 712.176 308.88 
L 712.656 312 
L 713.184 315.12 
L 713.616 311.52 
L 713.928 311.571859 
L 714.24 312 
L 714.6 312.029586 
L 714.96 311.52 
L 715.44 316.32 
L 715.8 317.617199 
L 716.16 318.48 
L 716.4 311.04 
L 716.88 309.84 
L 717.36 311.76 
L 717.744 309.6 
L 717.936 289.272 
L 718.116 303.1656 
L 718.32 309.12 
L 718.8 308.64 
L 719.28 309.12 
L 719.52 313.92 
L 720 316.8 
L 720.48 318.72 
L 720.96 319.92 
L 721.44 318.72 
L 721.776 316.08 
L 722.088 316.313588 
L 722.4 316.8 
L 722.76 317.739172 
L 723.12 318.48 
L 723.696 314.16 
L 724.008 314.964175 
L 724.32 315.36 
L 724.632 316.030439 
L 724.944 316.32 
L 725.424 314.16 
L 726 317.52 
L 726.48 316.8 
L 726.96 315.84 
L 727.344 320.64 
L 727.824 322.56 
L 728.16 320.64 
L 728.64 315.6 
L 729.12 316.8 
L 729.6 320.16 
L 730.08 321.6 
L 730.356 314.658 
L 730.464 293.832 
L 730.644 313.1016 
L 730.8 321.36 
L 731.376 320.64 
L 731.688 320.25889 
L 732 319.2 
L 732.48 315.36 
L 732.96 314.4 
L 733.272 315.341184 
L 733.584 315.84 
L 733.92 318 
L 734.28 316.985877 
L 734.64 316.32 
L 735.12 318.72 
L 735.504 319.92 
L 736.08 316.8 
L 736.56 314.16 
L 737.136 313.2 
L 737.448 313.18219 
L 737.76 312.48 
L 738.072 312.252879 
L 738.384 312 
L 738.864 313.44 
L 739.2 317.52 
L 739.56 316.897545 
L 739.92 316.8 
L 740.28 315.590736 
L 740.64 314.4 
L 740.952 314.946361 
L 741.264 315.36 
L 741.744 318.24 
L 742.32 320.16 
L 742.896 320.88 
L 743.088 312.792 
L 743.268 318.2856 
L 743.52 320.64 
L 743.832 322.088576 
L 744.144 323.52 
L 744.624 323.76 
L 745.2 320.64 
L 745.776 317.28 
L 746.16 318.72 
L 746.436 317.658 
L 746.544 314.472 
L 746.724 317.4456 
L 746.88 318.72 
L 747.36 321.84 
L 747.72 320.586772 
L 748.08 319.68 
L 748.656 322.32 
L 748.968 322.899261 
L 749.28 322.8 
L 749.592 320.201913 
L 749.904 318.312 
L 750.48 321.84 
L 750.84 319.553995 
L 751.2 317.28 
L 751.56 317.593562 
L 751.92 318.24 
L 752.28 319.291344 
L 752.64 319.68 
L 753 319.536551 
L 753.36 319.2 
L 753.84 321.84 
L 754.224 322.56 
L 754.416 293.832 
L 754.596 313.4376 
L 754.8 321.84 
L 755.16 320.626786 
L 755.52 319.2 
L 755.88 320.168681 
L 756.24 320.64 
L 756.72 318.24 
L 757.296 317.28 
L 757.776 320.64 
L 758.088 318.970635 
L 758.4 318 
L 758.76 318.266607 
L 759.12 319.2 
L 759.6 316.8 
L 759.984 316.08 
L 760.56 318.72 
L 761.04 321.12 
L 761.52 322.08 
L 762 315.36 
L 762.576 315.12 
L 763.056 318.24 
L 763.368 319.659122 
L 763.68 321.36 
L 764.16 315.12 
L 764.472 316.041675 
L 764.784 316.32 
L 765.264 319.2 
L 765.84 315.6 
L 766.416 318.24 
L 766.896 322.56 
L 767.376 324.96 
L 767.856 325.68 
L 768.24 320.952 
L 768.72 324.48 
L 769.2 326.4 
L 769.584 327.36 
L 770.16 325.92 
L 770.64 321.12 
L 771 320.571548 
L 771.36 319.68 
L 771.672 319.987812 
L 771.984 320.64 
L 772.32 319.287092 
L 772.656 318.48 
L 772.968 319.006677 
L 773.28 319.68 
L 773.76 322.56 
L 774.24 323.76 
L 774.6 322.907503 
L 774.96 322.08 
L 775.44 323.76 
L 776.016 323.04 
L 776.328 320.805106 
L 776.64 318.24 
L 777 317.836554 
L 777.36 318 
L 777.936 321.84 
L 778.32 320.16 
L 778.8 316.08 
L 779.376 315.36 
L 779.688 315.719229 
L 780 315.6 
L 780.48 316.32 
L 780.96 321.84 
L 781.32 321.119041 
L 781.68 320.16 
L 782.04 321.199884 
L 782.4 322.56 
L 782.712 320.074743 
L 783.024 318.24 
L 783.504 317.28 
L 784.08 319.68 
L 784.44 321.021162 
L 784.8 322.56 
L 785.28 324.24 
L 785.592 322.755684 
L 785.904 321.12 
L 786.24 321.104709 
L 786.576 320.88 
L 786.888 320.058246 
L 787.2 319.68 
L 787.56 321.165219 
L 787.92 322.08 
L 788.304 324.48 
L 788.784 326.16 
L 789.192 326.532434 
L 789.6 326.4 
L 789.96 326.69736 
L 790.32 326.64 
L 790.704 320.16 
L 791.28 319.44 
L 791.664 318.96 
L 792.144 322.08 
L 792.72 322.56 
L 793.2 322.8 
L 793.776 323.52 
L 794.256 325.68 
L 794.568 326.049797 
L 794.88 326.88 
L 795.36 327.12 
L 795.672 324.971569 
L 795.984 323.28 
L 796.464 322.32 
L 796.955517 323.348511 
L 797.165674 325.450088 
L 797.585989 324.291257 
L 798.006305 322.928196 
L 798.321541 322.644183 
L 798.636778 322.087566 
L 798.952014 323.779414 
L 799.26725 325.450088 
L 799.582487 323.455439 
L 799.897723 321.036778 
L 800.21296 322.900075 
L 800.528196 324.609457 
L 800.948511 325.021343 
L 801.368827 325.029772 
L 801.789142 325.727637 
L 802.209457 326.921191 
L 802.629772 325.428309 
L 803.050088 324.609457 
L 803.365324 324.954414 
L 803.68056 325.450088 
L 803.995797 323.97193 
L 804.311033 322.087566 
L 804.62627 322.892652 
L 804.941506 324.189142 
L 805.256743 325.328628 
L 805.571979 326.290718 
L 806.202452 319.985989 
L 806.622767 319.145359 
L 807.043082 324.609457 
L 807.463398 325.870403 
L 807.925744 324.609457 
" clip-path="url(#p67ec33360d)" style="fill: none; stroke: #006400; stroke-width: 1.5; stroke-linecap: square"/>
</g>
<g id="line2d_22">
<path d="M 85.104 286.656 
L 85.68 286.56 
L 85.98 286.236532 
L 86.28 285.938551 
L 86.58 286.121846 
L 86.88 285.84 
L 87.2 285.977038 
L 87.52 286.41906 
L 87.84 287.04 
L 88.16 286.699827 
L 88.48 286.061976 
L 88.8 285.84 
L 89.16 286.537065 
L 89.52 287.04 
L 89.856 287.32845 
L 90.192 287.089217 
L 90.528 287.087382 
L 90.864 287.107027 
L 91.2 287.28 
L 91.5 287.159299 
L 91.8 287.294656 
L 92.1 287.449153 
L 92.4 287.52 
L 92.72 287.832044 
L 93.04 288.75807 
L 93.36 289.2 
L 93.68 288.693254 
L 94 288.541283 
L 94.32 288 
L 94.62 288.001371 
L 94.92 288.182338 
L 95.22 288.311591 
L 95.52 288.24 
L 95.82 288.074933 
L 96.12 287.938891 
L 96.42 287.72576 
L 96.72 287.76 
L 97.08 286.526399 
L 97.44 285.36 
L 97.8 286.84686 
L 98.16 288.48 
L 98.48 288.368157 
L 98.8 287.929618 
L 99.12 288 
L 99.44 286.699019 
L 99.76 284.879922 
L 100.08 283.68 
L 100.44 284.664705 
L 100.8 286.08 
L 101.12 286.617986 
L 101.44 287.442326 
L 101.76 288 
L 102.12 287.207696 
L 102.48 285.84 
L 103.104 280.32 
L 103.44 280.193857 
L 103.776 280.32 
L 104.16 284.64 
L 104.48 285.087361 
L 104.8 285.654618 
L 105.12 285.84 
L 105.48 287.086659 
L 105.84 288 
L 106.2 288.797619 
L 106.56 289.92 
L 106.88 290.151654 
L 107.2 290.687584 
L 107.52 290.88 
L 107.84 291.115857 
L 108.16 291.497354 
L 108.48 291.84 
L 108.8 291.932773 
L 109.12 292.194814 
L 109.44 292.56 
L 109.74 292.327938 
L 110.04 291.935638 
L 110.34 291.094235 
L 110.64 290.88 
L 110.96 291.473321 
L 111.28 292.334497 
L 111.6 293.04 
L 111.9 292.970894 
L 112.2 292.499015 
L 112.5 292.250474 
L 112.8 291.84 
L 113.1 292.014775 
L 113.4 292.311268 
L 113.7 292.542021 
L 114 293.04 
L 114.36 292.834342 
L 114.72 292.695058 
L 115.08 292.244441 
L 115.44 291.84 
L 115.8 292.889078 
L 116.16 293.52 
L 116.52 292.917028 
L 116.88 291.84 
L 117.24 292.861636 
L 117.6 293.52 
L 117.92 294.109935 
L 118.24 294.047608 
L 118.56 294.72 
L 118.88 294.170786 
L 119.2 293.785404 
L 119.52 293.52 
L 119.84 293.691002 
L 120.16 293.988049 
L 120.48 294.24 
L 120.84 294.497137 
L 121.2 294.96 
L 121.512 294.323744 
L 121.824 293.76 
L 122.016 283.2 
L 122.16 276.48 
L 122.544 275.76 
L 122.976 276.96 
L 123.168 279.36 
L 123.6 279.84 
L 123.936 283.2 
L 124.56 286.08 
L 125.184 288 
L 125.652 286.938 
L 125.76 283.752 
L 125.94 288.0696 
L 126.24 289.92 
L 126.6 290.47736 
L 126.96 286.08 
L 127.44 288.96 
L 127.92 291.36 
L 128.328 289.740531 
L 128.736 292.56 
L 129.12 286.08 
L 129.396 284.898 
L 129.504 281.352 
L 129.684 286.6776 
L 129.984 288.96 
L 130.368 281.28 
L 130.548 277.278 
L 130.656 265.272 
L 130.836 268.7496 
L 131.28 270.24 
L 131.76 283.2 
L 132.168 287.76 
L 132.576 287.76 
L 132.864 268.8 
L 133.152 266.88 
L 133.488 266.88 
L 133.824 268.32 
L 134.16 280.32 
L 134.496 271.68 
L 135.024 273.6 
L 135.36 283.2 
L 135.936 291.36 
L 136.224 261.6 
L 136.8 261.12 
L 137.28 264 
L 137.76 270.24 
L 138.12 275.730576 
L 138.48 276 
L 138.84 275.174169 
L 139.2 281.28 
L 139.56 283.983153 
L 139.92 282.72 
L 140.28 281.28 
L 140.64 284.16 
L 141 289.98821 
L 141.36 291.36 
L 141.84 284.16 
L 142.194 280.698708 
L 142.548 283.158 
L 142.656 280.152 
L 142.836 287.9976 
L 143.28 291.36 
L 143.64 290.250162 
L 144 284.16 
L 144.36 283.44 
L 144.72 283.44 
L 145.2 288 
L 145.56 292.294337 
L 145.92 292.32 
L 146.28 288.500778 
L 146.64 289.44 
L 147 294.351819 
L 147.36 292.8 
L 147.972 290.538 
L 148.08 283.752 
L 148.26 293.4456 
L 148.56 297.6 
L 149.04 290.88 
L 149.52 290.88 
L 150 296.16 
L 150.36 294.031749 
L 150.72 298.08 
L 151.08 299.76 
L 151.44 299.76 
L 151.8 298.96451 
L 152.16 299.52 
L 152.52 301.2 
L 152.88 301.2 
L 153.36 296.691741 
L 153.84 300.96 
L 154.08 288 
L 154.176 277.92 
L 154.56 276 
L 155.136 273.36 
L 155.52 274.56 
L 155.76 281.28 
L 156.24 285.12 
L 156.6 287.698715 
L 156.96 287.04 
L 157.44 290.4 
L 157.8 286.385396 
L 158.16 288.96 
L 158.64 292.8 
L 159.264 278.64 
L 159.84 281.28 
L 160.32 290.4 
L 160.896 299.28 
L 161.28 292.8 
L 161.76 283.2 
L 162.12 287.973454 
L 162.48 278.4 
L 162.96 275.76 
L 163.44 280.8 
L 164.064 283.2 
L 164.64 292.8 
L 165.12 297.6 
L 165.492 292.458 
L 165.6 277.032 
L 165.78 280.0056 
L 166.32 281.28 
L 166.8 285.6 
L 167.16 282.268238 
L 167.52 288.96 
L 167.88 296.16 
L 168.24 296.16 
L 168.72 285.6 
L 168.852 282.378 
L 168.96 272.712 
L 169.14 276.6936 
L 169.68 278.4 
L 170.04 280.496149 
L 170.4 289.92 
L 170.772 286.458 
L 170.88 276.072 
L 171.06 281.0616 
L 171.6 283.2 
L 171.936 294.72 
L 172.32 272.64 
L 172.68 274.714832 
L 173.04 269.112 
L 173.4 269.112 
L 173.76 273.6 
L 174.24 276 
L 174.6 291.189114 
L 174.96 295.2 
L 175.44 273.6 
L 176.064 272.88 
L 176.64 276 
L 177 280.346585 
L 177.36 290.88 
L 177.84 276.48 
L 178.32 279.36 
L 178.8 290.88 
L 179.412 288.978 
L 179.52 283.272 
L 179.7 288.4296 
L 180 290.64 
L 180.48 289.86822 
L 180.96 283.2 
L 181.32 277.44 
L 181.68 280.32 
L 182.16 284.16 
L 182.64 291.84 
L 182.88 270.72 
L 183.24 275.455096 
L 183.6 273.6 
L 183.96 278.16 
L 184.32 279.36 
L 184.8 290.4 
L 185.376 297.6 
L 186 297.6 
L 186.24 276.96 
L 186.6 280.115823 
L 186.96 274.08 
L 187.44 280.32 
L 187.92 292.8 
L 188.532 290.178 
L 188.64 282.312 
L 188.82 289.9896 
L 189.36 293.28 
L 189.84 288.260098 
L 190.32 288.96 
L 190.72 290.570427 
L 191.12 288.96 
L 191.52 289.44 
L 191.872 296.331167 
L 192.224 293.750538 
L 192.576 301.2 
L 192.96 284.712 
L 193.32 291.056686 
L 193.68 288 
L 194.04 285.919274 
L 194.4 292.8 
L 194.88 291.84 
L 195.24 298.672277 
L 195.6 298.8 
L 196.08 277.44 
L 196.44 274.32 
L 196.8 274.32 
L 197.16 279.947721 
L 197.52 274.56 
L 198 281.28 
L 198.48 292.8 
L 198.96 278.232 
L 199.32 279.12 
L 199.68 281.28 
L 200.16 290.4 
L 200.52 296.16 
L 200.88 295.2 
L 201.36 296.16 
L 201.84 280.8 
L 202.272 281.52 
L 202.704 281.28 
L 202.848 285.876351 
L 203.456805 295.037345 
L 203.892968 285.996964 
L 204.39886 295.162862 
L 204.612 296.072146 
L 204.72 298.8 
L 205.481657 297.228964 
L 205.897582 286.240167 
L 206.371497 297.13981 
L 206.772 293.054858 
L 206.88 280.8 
L 207.06 291.219226 
L 207.252 292.634419 
L 207.36 296.88 
L 207.54 289.489086 
L 207.776023 286.321551 
L 208.191163 297.934808 
L 208.670434 285.170694 
L 209.189909 297.856124 
L 209.796 291.912093 
L 209.904 274.08 
L 210.084 281.091678 
L 210.764681 284.096683 
L 211.092 287.892512 
L 211.2 299.28 
L 211.38 290.166126 
L 211.717234 286.26018 
L 212.088186 298.898778 
L 212.532 294.914083 
L 212.64 282.96 
L 212.82 295.116954 
L 213.188214 300.327077 
L 213.571477 286.262183 
L 214.15373 300.376813 
L 214.705537 285.447182 
L 215.209597 297.508855 
L 215.412 298.911641 
L 215.52 303.12 
L 215.7 291.961369 
L 215.832775 287.179098 
L 216.372 286.004324 
L 216.48 282.48 
L 216.66 284.518684 
L 217.092 289.889013 
L 217.2 306 
L 217.38 291.210319 
L 217.62 284.871885 
L 218.005133 286.308407 
L 218.478486 300.954696 
L 219.079357 287.326489 
L 219.492 290.914867 
L 219.6 301.68 
L 219.78 291.801295 
L 220.095339 287.567565 
L 220.526725 300.757843 
L 220.972878 288.341254 
L 221.621517 299.590337 
L 222 300 
L 222.49913 301.053641 
L 223.092 296.530231 
L 223.2 282.96 
L 223.38 286.30805 
L 223.874366 287.742929 
L 224.331698 299.788048 
L 224.88 302.16 
L 225.183379 300.622926 
L 225.611475 286.222454 
L 226.214142 299.846445 
L 226.548 296.224834 
L 226.656 285.36 
L 226.836 296.192351 
L 227.125063 300.834787 
L 227.76 300 
L 227.94 291.221517 
L 228.675005 287.45931 
L 229.26706 298.55729 
L 229.712536 287.506022 
L 230.114092 298.369355 
L 230.727579 288.011884 
L 231.252 291.548913 
L 231.36 302.16 
L 231.54 288.72 
L 231.744 282.96 
L 231.924 295.71911 
L 232.176427 301.1873 
L 232.778825 289.974635 
L 233.357828 301.791711 
L 234.132 297.503783 
L 234.24 284.64 
L 234.42 297.365944 
L 234.756 299.164458 
L 234.864 304.56 
L 235.044 294.27429 
L 235.329224 289.866128 
L 235.703613 301.614625 
L 236.134303 289.089496 
L 236.772 292.957122 
L 236.88 304.56 
L 237.06 295.108833 
L 237.267934 291.058333 
L 237.811665 303.278618 
L 238.376299 288.869353 
L 238.922007 303.505154 
L 239.329702 290.739904 
L 239.76 288.72 
L 240.036 293.28 
L 240.144 306.96 
L 240.324 303.659404 
L 240.573419 302.244863 
L 240.953198 288.56656 
L 241.341013 301.683548 
L 242.052 298.022661 
L 242.16 287.04 
L 242.34 298.540269 
L 242.529898 303.468955 
L 243.048611 290.497802 
L 243.252 293.173352 
L 243.36 301.2 
L 243.54 292.032855 
L 243.78 288.104078 
L 243.94457 289.588683 
L 244.539547 301.617175 
L 244.836 302.352881 
L 244.944 304.56 
L 245.124 293.34297 
L 245.412 288.535672 
L 245.52 285.36 
L 245.7 288.587412 
L 245.863149 289.970589 
L 246.30517 302.002771 
L 246.938505 291.884123 
L 247.306899 302.211941 
L 247.680493 291.081733 
L 248.052 295.5913 
L 248.16 309.12 
L 248.34 295.024534 
L 248.695416 288.983619 
L 249.335138 300.866907 
L 249.991833 292.066735 
L 250.361755 301.083287 
L 250.734922 292.52531 
L 251.331682 301.175931 
L 251.748 297.521948 
L 251.856 286.56 
L 252.132 290.34 
L 252.24 301.68 
L 252.42 294.863783 
L 252.886034 291.942547 
L 253.510091 301.511653 
L 253.883134 291.448681 
L 254.424977 303.816539 
L 254.919659 292.708898 
L 255.58505 302.572097 
L 256.212 298.449072 
L 256.32 286.08 
L 256.5 298.886221 
L 256.73237 304.374602 
L 257.149433 291.852065 
L 257.652 295.629048 
L 257.76 306.96 
L 257.94 297.236305 
L 258.280899 293.069007 
L 258.876004 303.720416 
L 259.572 304.530312 
L 259.68 306.96 
L 259.86 304.574885 
L 260.008654 303.552694 
L 260.382797 290.711046 
L 260.850247 303.102017 
L 261.342963 293.075476 
L 261.794443 304.890032 
L 262.56 305.28 
L 262.94804 303.219791 
L 263.412879 290.645767 
L 263.955462 304.750342 
L 264.457078 291.324889 
L 265.092 290.493667 
L 265.2 288 
L 265.38 290.730801 
L 265.636452 291.901144 
L 266.07225 304.764607 
L 266.671817 294.358478 
L 267.252 292.888859 
L 267.36 288.48 
L 267.54 299.69307 
L 268.141633 304.498672 
L 268.662133 292.752307 
L 269.21611 304.77583 
L 269.412 305.741873 
L 269.52 308.64 
L 269.7 302.911054 
L 269.844 300.455791 
L 270.235819 305.999701 
L 270.701834 292.751923 
L 271.272631 307.096372 
L 271.783183 292.799117 
L 272.052 296.459337 
L 272.16 307.44 
L 272.34 297.968292 
L 272.890161 293.908988 
L 273.2881 304.678147 
L 273.943367 294.13811 
L 274.319947 307.403399 
L 274.692 304.172549 
L 274.8 294.48 
L 274.98 303.456466 
L 275.452596 307.303522 
L 275.882916 294.094948 
L 276.243241 307.703484 
L 276.792038 294.760517 
L 277.371434 307.300558 
L 277.955219 294.772679 
L 278.385976 305.749471 
L 278.628 307.852104 
L 278.736 314.16 
L 278.916 301.477236 
L 279.030372 296.041766 
L 279.6 293.76 
L 279.78 295.498988 
L 280.329189 296.244269 
L 280.725551 307.623771 
L 281.386208 296.172288 
L 281.796 300.789216 
L 281.904 314.64 
L 282.084 301.331171 
L 282.374261 295.627388 
L 283.016801 306.479052 
L 283.6557 297.256395 
L 284.184582 309.031792 
L 284.772 304.733844 
L 284.88 291.84 
L 285.06 294.896531 
L 285.485335 296.206473 
L 286.085749 309.043168 
L 286.732187 296.862198 
L 287.368417 308.928226 
L 288.028959 295.837948 
L 288.612 300.418461 
L 288.72 314.16 
L 288.9 301.075822 
L 289.096506 295.468317 
L 289.686534 309.112044 
L 290.084451 297.363772 
L 290.532 300.842829 
L 290.64 311.28 
L 290.82 300.820988 
L 291.34765 296.338555 
L 291.729259 309.613516 
L 292.331192 296.945717 
L 292.967963 306.971105 
L 293.172 302.708329 
L 293.28 289.92 
L 293.46 295.070528 
L 293.652 298.522896 
L 293.76 308.88 
L 293.94 300.816888 
L 294.539393 297.361268 
L 295.047007 309.158739 
L 295.599842 295.266539 
L 296.235874 307.82164 
L 296.532 309.10623 
L 296.64 312.96 
L 296.82 300.53217 
L 297.252 295.205958 
L 297.36 293.28 
L 297.79431 294.365451 
L 298.187074 308.813562 
L 298.683425 295.854386 
L 299.289242 308.62033 
L 299.71954 297.081541 
L 300.360852 309.645167 
L 300.794435 294.752901 
L 300.996 300.564675 
L 301.104 318 
L 301.284 301.975454 
L 301.855977 295.107791 
L 302.469235 307.737135 
L 302.88 308.88 
L 303.501034 307.696143 
L 303.972 303.792107 
L 304.08 292.08 
L 304.26 303.144924 
L 304.448961 307.887034 
L 304.902683 295.409823 
L 305.337733 307.910333 
L 306.008115 298.358939 
L 306.372 301.709204 
L 306.48 311.76 
L 306.66 301.314855 
L 306.865708 296.838364 
L 307.37937 309.083914 
L 307.828798 297.592214 
L 308.052 296.814161 
L 308.16 294.48 
L 308.34 297.69862 
L 308.725528 299.078029 
L 309.219803 308.828066 
L 309.715074 297.992959 
L 310.212 302.034719 
L 310.32 314.16 
L 310.5 307.310176 
L 310.74 304.374537 
L 311.162781 308.100767 
L 311.601564 297.703095 
L 312.265333 308.344768 
L 312.908055 297.754983 
L 313.432487 310.198107 
L 314.066716 297.658707 
L 314.687479 308.989205 
L 315.335205 299.605864 
L 315.750284 309.700246 
L 316.356 311.955185 
L 316.464 318.72 
L 316.644 305.158051 
L 316.932 299.345787 
L 317.04 296.64 
L 317.51064 297.756154 
L 318.042823 309.998461 
L 318.488642 298.484821 
L 318.852 302.283616 
L 318.96 313.68 
L 319.14 304.378246 
L 319.525735 300.39178 
L 320.015312 310.28233 
L 320.292 311.071747 
L 320.4 313.44 
L 320.58 300.168 
L 321.12 294.48 
L 321.84 294.48 
L 322.463283 303.262458 
L 322.836 306.946844 
L 322.944 318 
L 323.124 308.171992 
L 323.497179 303.959989 
L 323.858899 316.2369 
L 324.516281 304.525263 
L 324.852 302.313947 
L 324.96 295.68 
L 325.14 300.930489 
L 325.294676 303.180699 
L 325.730218 316.977952 
L 326.24733 303.475403 
L 326.753955 315.805049 
L 327.012 317.313787 
L 327.12 321.84 
L 327.3 316.609148 
L 327.653538 314.367354 
L 328.211719 304.556092 
L 328.581221 315.031883 
L 329.172 316.013912 
L 329.28 318.96 
L 329.46 303.84 
L 329.664 297.36 
L 329.844 303.063323 
L 330.326404 305.507604 
L 331.2 303.12 
L 331.544973 304.464564 
L 332.170551 316.216567 
L 332.593708 306.146612 
L 333.141753 315.039709 
L 333.510718 305.627216 
L 334.212 308.960412 
L 334.32 318.96 
L 334.5 315.152011 
L 334.692 313.520015 
L 334.8 304.08 
L 334.98 312.583478 
L 335.166647 316.227826 
L 335.803452 305.440656 
L 336.370563 317.79351 
L 336.89114 306.802818 
L 337.261909 316.710119 
L 337.731132 307.165357 
L 338.093444 319.484494 
L 338.436 314.613371 
L 338.544 300 
L 338.724 313.328733 
L 339.330784 319.041047 
L 339.920441 308.016569 
L 340.569052 318.641987 
L 341.04 318.96 
L 341.22 309.811769 
L 341.652 305.891098 
L 341.76 302.64 
L 341.94 307.2639 
L 342.085294 309.245572 
L 342.612 311.674179 
L 342.72 318.96 
L 342.9 311.480146 
L 343.163945 308.274494 
L 343.595382 318.481573 
L 344.114621 307.76328 
L 344.522862 318.390235 
L 344.893862 308.837245 
L 345.278473 319.868664 
L 345.855356 308.300757 
L 346.508186 320.39419 
L 346.8 322.56 
L 346.98 313.04317 
L 347.171314 308.964529 
L 347.76 308.4 
L 348.127623 309.379909 
L 348.798941 320.482718 
L 349.2 321.84 
L 349.638613 320.463779 
L 350.14952 310.765343 
L 350.532 308.914007 
L 350.64 303.36 
L 350.82 308.655881 
L 351.308202 310.925545 
L 351.732 314.374159 
L 351.84 324.72 
L 352.02 318.920229 
L 352.26 316.434613 
L 352.51257 322.038019 
L 353.077303 311.694801 
L 353.412 310.3311 
L 353.52 306.24 
L 353.7 309.372937 
L 354.132 312.069703 
L 354.24 320.16 
L 354.42 322.372331 
L 354.831717 323.320473 
L 355.456167 312.156449 
L 355.961039 323.565882 
L 356.32291 311.107436 
L 357.12 308.88 
L 357.3 318.788747 
L 357.991355 323.035353 
L 358.597526 311.963606 
L 358.932 316.172705 
L 359.04 328.8 
L 359.22 315.88817 
L 359.654 310.354529 
L 360.073526 324.242464 
L 360.756 319.981848 
L 360.864 307.2 
L 361.044 318.984936 
L 361.246238 324.035623 
L 361.607619 312.637185 
L 362.105767 321.594805 
L 362.532 322.196104 
L 362.64 324 
L 362.82 319.117748 
L 363.06 317.025354 
L 363.191405 324.11622 
L 363.732 318.867165 
L 363.84 303.12 
L 364.02 317.171422 
L 364.206247 323.19346 
L 364.852629 312.821981 
L 365.387078 323.909803 
L 365.979156 311.501828 
L 366.372 310.186371 
L 366.48 306.24 
L 366.66 310.455583 
L 367.103829 312.262261 
L 367.505239 323.443466 
L 368.158272 311.966455 
L 368.772 316.114841 
L 368.88 328.56 
L 369.06 321.333643 
L 369.3 318.236632 
L 369.896445 324.200903 
L 370.437287 312.632121 
L 371.014572 322.850504 
L 371.558366 310.432953 
L 372.132 314.424715 
L 372.24 326.4 
L 372.42 321.038071 
L 372.612 318.740102 
L 372.72 308.88 
L 372.9 319.134927 
L 373.030994 323.529896 
L 373.498068 311.453847 
L 374.002175 323.697627 
L 374.506214 311.957129 
L 375.099869 323.828869 
L 375.493715 310.883623 
L 375.732 315.182717 
L 375.84 328.08 
L 376.02 315.52026 
L 376.575848 310.137515 
L 376.959552 324.468086 
L 377.440442 310.201345 
L 377.652 309.271009 
L 377.76 306.48 
L 377.94 309.615557 
L 378.369571 310.959367 
L 378.927654 324.536983 
L 379.474382 313.264628 
L 380.103788 322.469893 
L 380.292 323.15242 
L 380.4 325.2 
L 381.028402 325.301016 
L 381.415068 311.312149 
L 381.972 309.864112 
L 382.212 313.758084 
L 382.32 325.44 
L 382.912695 325.562145 
L 383.45794 312.585487 
L 384.038203 324.244014 
L 384.372 320.22301 
L 384.48 308.16 
L 384.66 320.284251 
L 385.072913 325.480359 
L 385.700523 312.699342 
L 386.052 316.244507 
L 386.16 326.88 
L 386.34 315.431825 
L 386.708732 310.525465 
L 387.368633 322.867439 
L 387.739766 310.471066 
L 388.212 314.0333 
L 388.32 324.72 
L 388.5 315.797784 
L 388.751893 311.973978 
L 389.181421 324.824628 
L 389.648122 310.844945 
L 390.105803 323.704457 
L 390.63189 312.648096 
L 391.115286 323.760788 
L 391.668 325.860591 
L 391.776 332.16 
L 391.956 319.842224 
L 392.551297 314.563176 
L 392.915165 322.280498 
L 393.437401 313.531656 
L 394.08 312.24 
L 394.508651 312.566355 
L 394.692 315.424766 
L 394.8 324 
L 394.98 316.498164 
L 395.443256 313.283091 
L 395.989321 324.95106 
L 396.414033 313.285546 
L 396.612 316.144159 
L 396.72 324.72 
L 396.9 317.663595 
L 397.278586 314.639422 
L 397.572 312.179566 
L 397.68 304.8 
L 397.86 312.747031 
L 398.414803 316.152901 
L 399.00291 326.741131 
L 399.388248 314.464037 
L 399.732 312.408028 
L 399.84 306.24 
L 400.02 312.471436 
L 400.418995 315.142052 
L 400.692 313.336539 
L 400.8 307.92 
L 400.98 313.088494 
L 401.310532 315.303562 
L 401.898337 325.214598 
L 402.388448 315.221641 
L 402.995178 326.942263 
L 403.68 329.28 
L 403.86 320.638009 
L 404.352937 316.934298 
L 404.761334 327.329358 
L 405.252 322.717018 
L 405.36 308.88 
L 405.54 321.616445 
L 405.83569 327.074921 
L 406.296661 317.733737 
L 406.730609 328.055005 
L 407.217339 317.584749 
L 407.857383 327.096202 
L 408.132 328.782151 
L 408.24 333.84 
L 408.42 329.737271 
L 408.857707 327.978959 
L 409.230279 315.785047 
L 409.609219 327.766377 
L 410.052 324.724783 
L 410.292 326.523587 
L 410.4 331.92 
L 410.58 329.924952 
L 410.919623 329.069932 
L 411.284997 316.471241 
L 411.889376 328.730348 
L 412.33663 317.356673 
L 412.758473 328.091547 
L 413.172 323.58866 
L 413.28 310.08 
L 413.46 316.21402 
L 414.160921 318.842886 
L 414.612 321.272165 
L 414.72 328.56 
L 414.9 322.198062 
L 415.370549 319.471518 
L 415.946836 328.645314 
L 416.422542 317.823801 
L 417.012 315.947851 
L 417.12 310.32 
L 417.3 316.74039 
L 417.511233 319.491985 
L 417.921958 328.008031 
L 418.570513 318.735018 
L 419.162399 328.826551 
L 419.535227 317.914297 
L 420.131437 329.464271 
L 420.631667 318.157281 
L 420.852 321.177961 
L 420.96 330.24 
L 421.14 327.311251 
L 421.572 326.056073 
L 421.68 313.2 
L 421.86 324.009096 
L 422.189727 328.641565 
L 422.772 324.781174 
L 422.88 313.2 
L 423.06 318.133205 
L 423.705076 320.247436 
L 424.070188 328.79126 
L 424.56 329.76 
L 424.74 323.189245 
L 425.172 320.373207 
L 425.28 318.24 
L 425.46 320.122988 
L 425.708399 320.929983 
L 426.105017 328.64571 
L 426.470956 320.423857 
L 426.960717 330.147542 
L 427.546165 320.210869 
L 428.052 323.438152 
L 428.16 333.12 
L 428.34 323.663365 
L 428.55061 319.610522 
L 428.944239 328.619977 
L 429.396369 321.893405 
L 429.797242 329.682425 
L 430.330267 320.779391 
L 430.708886 329.737172 
L 431.078816 321.395008 
L 431.579027 330.216741 
L 432.372 324.762556 
L 432.48 308.4 
L 432.66 317.539975 
L 433.239962 321.457107 
L 433.803407 331.040459 
L 434.16 333.12 
L 434.34 323.767862 
L 435.012 319.759802 
L 435.12 316.56 
L 435.3 326.741699 
L 436.011862 331.105285 
L 436.8 330.72 
L 437.281388 329.653318 
L 437.868848 319.024713 
L 438.408155 329.324645 
L 439.2 331.44 
L 439.493989 329.882834 
L 439.883014 317.862476 
L 440.4 313.92 
L 440.976 317.28 
L 441.456 317.52 
L 441.744 324 
L 442.08 328.8 
L 442.56 330.96 
L 443.04 333.12 
L 443.376 333.6 
L 443.76 337.44 
L 444.24 336.48 
L 444.624 341.28 
L 445.2 337.992 
L 445.68 343.2 
L 446.04 341.477713 
L 446.4 339.912 
L 446.88 343.68 
L 447.24 343.001246 
L 447.6 341.76 
L 448.08 344.64 
L 448.44 343.260764 
L 448.8 341.592 
L 449.28 344.64 
L 449.52 340.56 
L 450 342.72 
L 450.576 345.12 
L 451.008 344.221563 
L 451.44 343.2 
L 451.92 346.56 
L 452.28 347.425356 
L 452.64 348.72 
L 452.952 347.185341 
L 453.264 346.08 
L 453.84 346.08 
L 454.32 349.2 
L 454.8 345.84 
L 455.28 348.24 
L 455.556 346.998 
L 455.664 343.272 
L 455.844 346.7496 
L 456 348.24 
L 456.36 348.204244 
L 456.72 348.72 
L 457.08 348.228494 
L 457.44 347.28 
L 457.752 347.343096 
L 458.064 347.28 
L 458.64 349.92 
L 459 349.569837 
L 459.36 348.96 
L 459.72 348.660845 
L 460.08 348.96 
L 460.4 349.253224 
L 460.72 349.167444 
L 461.04 348.96 
L 461.4 349.5005 
L 461.76 350.4 
L 462.24 351.12 
L 462.6 350.441459 
L 462.96 350.16 
L 463.32 349.362444 
L 463.68 348.96 
L 464.16 350.88 
L 464.52 350.397847 
L 464.88 350.16 
L 465.24 350.175448 
L 465.6 350.16 
L 465.96 350.837534 
L 466.32 351.6 
L 466.68 352.069727 
L 467.04 352.8 
L 467.36 352.869796 
L 467.68 352.575044 
L 468 352.8 
L 468.32 352.670298 
L 468.64 352.71661 
L 468.96 352.8 
L 469.344 354.24 
L 469.776 352.8 
L 470.064 348.24 
L 470.64 346.56 
L 471 347.012588 
L 471.36 347.52 
L 471.72 347.93795 
L 472.08 348 
L 472.44 347.692596 
L 472.8 347.76 
L 473.16 348.488882 
L 473.52 349.2 
L 473.88 349.017667 
L 474.24 348.72 
L 474.6 348.676985 
L 474.96 349.2 
L 475.344 347.76 
L 475.92 349.2 
L 476.28 349.867108 
L 476.64 350.4 
L 477.168 350.4 
L 477.36 342.72 
L 477.456 316.152 
L 477.636 331.7256 
L 477.84 338.4 
L 478.32 344.16 
L 478.8 338.64 
L 479.376 339.36 
L 479.76 343.68 
L 480.12 344.194407 
L 480.48 345.12 
L 480.612 342.378 
L 480.72 334.152 
L 480.9 342.1656 
L 481.104 345.6 
L 481.68 344.64 
L 482.04 344.128592 
L 482.4 344.16 
L 482.712 342.760105 
L 483.024 340.8 
L 483.6 342.24 
L 483.96 343.970554 
L 484.32 345.12 
L 484.68 345.55244 
L 485.04 345.6 
L 485.4 345.238079 
L 485.76 345.12 
L 486.12 345.348947 
L 486.48 346.08 
L 486.84 346.554961 
L 487.2 346.8 
L 487.68 346.56 
L 488.16 343.68 
L 488.64 344.64 
L 489.12 347.04 
L 489.6 348.72 
L 489.96 347.962655 
L 490.32 347.28 
L 490.64 347.444152 
L 490.96 348.07699 
L 491.28 348.48 
L 491.64 347.349458 
L 492 346.8 
L 492.48 348.24 
L 492.84 347.775416 
L 493.2 346.8 
L 493.56 346.289479 
L 493.92 346.08 
L 494.28 346.541414 
L 494.64 346.8 
L 495 347.282508 
L 495.36 348 
L 495.72 348.252522 
L 496.08 348.48 
L 496.44 348.149147 
L 496.8 347.76 
L 497.16 347.323349 
L 497.52 347.28 
L 497.88 348.053021 
L 498.24 348.24 
L 498.6 348.891683 
L 498.96 349.2 
L 499.32 350.074247 
L 499.68 350.4 
L 500.04 349.806372 
L 500.4 348.72 
L 500.76 347.70109 
L 501.12 346.56 
L 501.6 348.24 
L 501.96 348.02325 
L 502.32 347.28 
L 502.632 346.663219 
L 502.944 346.56 
L 503.352 347.090293 
L 503.76 348 
L 504.12 348.316222 
L 504.48 349.2 
L 504.84 349.691006 
L 505.2 350.4 
L 505.56 349.490535 
L 505.92 348.72 
L 506.28 349.177322 
L 506.64 349.92 
L 506.952 348.445132 
L 507.264 346.56 
L 507.84 347.76 
L 508.2 348.390614 
L 508.56 349.2 
L 508.92 349.423303 
L 509.28 349.92 
L 509.76 347.76 
L 510.24 350.16 
L 510.6 350.426642 
L 510.96 350.64 
L 511.32 349.935937 
L 511.68 349.68 
L 512.16 348.96 
L 512.64 350.88 
L 513 350.708571 
L 513.36 350.16 
L 513.72 350.25452 
L 514.08 350.88 
L 514.44 350.103817 
L 514.8 348.72 
L 515.28 350.4 
L 515.6 350.729881 
L 515.92 350.531999 
L 516.24 350.88 
L 516.56 350.411446 
L 516.88 350.756848 
L 517.2 350.4 
L 517.56 350.409079 
L 517.92 350.16 
L 518.4 348.96 
L 518.76 349.8229 
L 519.12 350.4 
L 519.44 350.409273 
L 519.76 349.814204 
L 520.08 349.92 
L 520.4 349.991683 
L 520.72 350.000302 
L 521.04 350.4 
L 521.36 350.786577 
L 521.68 350.796938 
L 522 350.88 
L 522.36 350.41448 
L 522.72 350.16 
L 523.032 349.16766 
L 523.344 348.72 
L 523.92 350.4 
L 524.24 350.122053 
L 524.56 349.970914 
L 524.88 349.92 
L 525.2 350.143274 
L 525.52 350.165836 
L 525.84 350.16 
L 526.16 350.321621 
L 526.48 349.982662 
L 526.8 349.92 
L 527.12 349.762627 
L 527.44 350.213065 
L 527.76 350.16 
L 528.12 350.44273 
L 528.48 350.4 
L 528.84 351.278237 
L 529.2 352.08 
L 529.56 352.609084 
L 529.92 352.8 
L 530.24 353.036128 
L 530.56 353.294185 
L 530.88 353.52 
L 531.36 352.08 
L 531.84 352.56 
L 532.176 351.36 
L 532.368 319.752 
L 532.548 338.5176 
L 532.8 346.56 
L 533.28 348.96 
L 533.76 350.4 
L 534.24 352.32 
L 534.6 352.394786 
L 534.96 352.56 
L 535.32 352.503862 
L 535.68 353.04 
L 536.04 352.315324 
L 536.4 352.08 
L 536.76 352.027612 
L 537.12 352.56 
L 537.44 352.48512 
L 537.76 352.124158 
L 538.08 352.08 
L 538.4 352.245348 
L 538.72 352.654321 
L 539.04 352.56 
L 539.36 352.323558 
L 539.68 352.344079 
L 540 352.32 
L 540.32 352.399464 
L 540.64 351.99077 
L 540.96 352.08 
L 541.32 351.936035 
L 541.68 352.32 
L 542.16 350.16 
L 542.64 353.52 
L 543 353.508805 
L 543.36 353.76 
L 543.72 353.428602 
L 544.08 353.52 
L 544.56 350.16 
L 545.04 350.4 
L 545.4 351.388131 
L 545.76 351.84 
L 546.12 352.392267 
L 546.48 352.56 
L 546.84 352.523244 
L 547.2 352.32 
L 547.68 353.52 
L 548.04 353.391791 
L 548.4 352.8 
L 548.976 354.48 
L 549.288 354.789491 
L 549.6 354.72 
L 550.08 353.28 
L 550.656 352.08 
L 550.968 352.72442 
L 551.28 353.76 
L 551.64 354.484957 
L 552 354.72 
L 552.48 353.28 
L 552.96 350.4 
L 553.44 350.16 
L 553.8 351.14455 
L 554.16 352.08 
L 554.64 348.96 
L 554.96 349.151843 
L 555.28 349.207161 
L 555.6 348.96 
L 555.96 348.966434 
L 556.32 349.2 
L 556.8 352.32 
L 557.16 350.996672 
L 557.52 350.16 
L 557.88 349.990232 
L 558.24 350.16 
L 558.72 352.08 
L 559.104 350.16 
L 559.2 350.16 
L 559.68 353.28 
L 560.04 353.714515 
L 560.4 354.24 
L 560.784 354.72 
L 560.916 347.418 
L 561.024 325.512 
L 561.204 344.2776 
L 561.408 352.32 
L 561.984 353.76 
L 562.56 354 
L 562.92 353.358441 
L 563.28 352.32 
L 563.64 353.265096 
L 564 353.76 
L 564.36 353.212338 
L 564.72 353.28 
L 565.032 354.006706 
L 565.344 354.72 
L 565.752 353.588464 
L 566.16 352.56 
L 566.52 353.106595 
L 566.88 354 
L 567.24 354.122796 
L 567.6 354.72 
L 567.912 353.898672 
L 568.224 353.28 
L 568.8 352.32 
L 569.376 354.72 
L 569.856 355.2 
L 570.24 354.996376 
L 570.624 354.24 
L 571.2 353.76 
L 571.476 352.698 
L 571.584 349.512 
L 571.764 352.1496 
L 572.064 353.28 
L 572.472 353.289679 
L 572.88 353.52 
L 573.192 352.451725 
L 573.504 351.36 
L 573.984 352.8 
L 574.368 350.16 
L 574.944 352.32 
L 575.352 353.286684 
L 575.76 354 
L 576.168 354.034905 
L 576.576 354.24 
L 576.96 354.414392 
L 577.344 354 
L 577.824 351.84 
L 578.4 353.76 
L 578.76 353.448567 
L 579.12 352.56 
L 579.48 353.005112 
L 579.84 353.76 
L 580.2 353.158283 
L 580.56 352.56 
L 580.92 353.155748 
L 581.28 354 
L 581.64 353.38574 
L 582 353.04 
L 582.36 353.831017 
L 582.72 355.2 
L 583.2 355.92 
L 583.56 354.548368 
L 583.92 353.04 
L 584.232 354.121672 
L 584.544 355.2 
L 585.12 353.76 
L 585.48 354.200123 
L 585.84 355.2 
L 586.2 354.941875 
L 586.56 354.96 
L 586.92 355.694758 
L 587.28 355.92 
L 587.64 355.277487 
L 588 354.96 
L 588.432 354.738414 
L 588.864 354.96 
L 589.272 354.353419 
L 589.68 353.76 
L 589.98 354.063046 
L 590.28 353.599042 
L 590.58 353.867413 
L 590.88 353.76 
L 591.2 353.923251 
L 591.52 353.596286 
L 591.84 353.76 
L 592.2 353.182407 
L 592.56 352.32 
L 592.92 353.317497 
L 593.28 354.48 
L 593.712 354.682559 
L 594.144 354.72 
L 594.552 353.723323 
L 594.96 352.56 
L 595.272 353.662323 
L 595.584 354.72 
L 595.92 354.344341 
L 596.256 354.48 
L 596.568 353.969229 
L 596.88 353.04 
L 597.12 348.48 
L 597.6 346.08 
L 598.08 346.8 
L 598.56 348.72 
L 599.136 349.92 
L 599.424 352.32 
L 600 352.56 
L 600.384 348.96 
L 600.816 348.24 
L 601.2 349.92 
L 601.44 353.76 
L 601.92 354.24 
L 602.4 351.6 
L 602.76 351.608167 
L 603.12 351.84 
L 603.48 351.524388 
L 603.84 351.6 
L 604.2 351.793444 
L 604.56 352.56 
L 604.88 352.536717 
L 605.2 352.5108 
L 605.52 352.32 
L 605.88 352.618351 
L 606.24 353.52 
L 606.72 352.8 
L 607.296 354 
L 607.608 354.847546 
L 607.92 355.68 
L 608.28 355.389333 
L 608.64 355.44 
L 608.96 355.610588 
L 609.28 355.396805 
L 609.6 355.68 
L 610.176 355.92 
L 610.488 357.239145 
L 610.8 358.32 
L 611.28 358.8 
L 611.412 354.198 
L 611.52 340.392 
L 611.7 349.4136 
L 611.904 353.28 
L 612.48 356.16 
L 612.84 355.849323 
L 613.2 355.68 
L 613.56 355.71252 
L 613.92 355.2 
L 614.28 355.213813 
L 614.64 355.68 
L 615 356.060825 
L 615.36 356.64 
L 615.84 357.6 
L 616.416 354.96 
L 616.8 354 
L 617.376 356.16 
L 617.688 355.798807 
L 618 355.92 
L 618.36 355.825009 
L 618.72 355.2 
L 619.08 355.55546 
L 619.44 355.44 
L 619.752 356.008956 
L 620.064 356.88 
L 620.64 355.68 
L 621 356.61983 
L 621.36 357.36 
L 621.72 357.077947 
L 622.08 356.4 
L 622.512 356.914445 
L 622.944 357.36 
L 623.352 357.018502 
L 623.76 356.64 
L 624.12 356.598916 
L 624.48 356.88 
L 624.84 356.146096 
L 625.2 355.92 
L 625.56 357.247863 
L 625.92 358.08 
L 626.24 357.849861 
L 626.56 357.203055 
L 626.88 356.64 
L 627.24 357.259555 
L 627.6 358.08 
L 627.96 357.865907 
L 628.32 357.84 
L 628.704 354 
L 629.088 353.52 
L 629.52 356.4 
L 630 358.08 
L 630.36 358.220996 
L 630.72 358.08 
L 631.04 358.327797 
L 631.36 358.321542 
L 631.68 358.08 
L 632.04 357.534642 
L 632.4 356.64 
L 632.76 355.288628 
L 633.12 353.76 
L 633.6 353.76 
L 634.176 356.88 
L 634.488 356.020503 
L 634.8 355.68 
L 635.16 355.228856 
L 635.52 355.2 
L 635.84 355.848698 
L 636.16 356.066412 
L 636.48 356.4 
L 636.84 356.453739 
L 637.2 357.12 
L 637.536 360 
L 637.848 359.991318 
L 638.16 360.48 
L 638.64 360.24 
L 639.12 356.88 
L 639.48 357.822025 
L 639.84 358.56 
L 640.224 356.64 
L 640.356 349.938 
L 640.464 329.832 
L 640.644 348.2616 
L 640.896 356.16 
L 641.208 357.051158 
L 641.52 358.56 
L 642 356.88 
L 642.48 355.68 
L 642.96 357.6 
L 643.32 357.508344 
L 643.68 357.84 
L 644.04 357.27041 
L 644.4 356.64 
L 644.76 357.479743 
L 645.12 358.08 
L 645.552 357.574824 
L 645.984 356.88 
L 646.56 358.08 
L 646.92 357.067944 
L 647.28 356.4 
L 647.64 356.1724 
L 648 355.68 
L 648.576 356.64 
L 648.96 357.316043 
L 649.344 358.32 
L 649.92 358.8 
L 650.232 357.371049 
L 650.544 356.16 
L 651.12 353.76 
L 651.48 354.873811 
L 651.84 355.68 
L 652.2 355.533371 
L 652.56 355.2 
L 652.92 356.017915 
L 653.28 356.4 
L 653.64 355.41835 
L 654 354.24 
L 654.48 353.76 
L 654.84 355.362625 
L 655.2 356.88 
L 655.56 356.026453 
L 655.92 355.68 
L 656.28 354.877455 
L 656.64 354.24 
L 657.12 354.24 
L 657.6 356.16 
L 658.08 354 
L 658.44 353.733486 
L 658.8 353.76 
L 659.28 356.64 
L 659.64 356.96025 
L 660 357.6 
L 660.36 357.295159 
L 660.72 356.4 
L 661.2 354.48 
L 661.56 355.253293 
L 661.92 356.16 
L 662.28 355.444637 
L 662.64 354.24 
L 663 355.041831 
L 663.36 355.68 
L 663.72 354.663962 
L 664.08 353.28 
L 664.392 352.801646 
L 664.704 352.32 
L 665.28 354.24 
L 665.64 354.767988 
L 666 355.2 
L 666.36 356.155331 
L 666.72 357.12 
L 667.2 358.08 
L 667.56 357.889832 
L 667.92 358.08 
L 668.28 357.49881 
L 668.64 356.64 
L 669 356.503202 
L 669.36 356.64 
L 669.72 357.303173 
L 670.08 358.56 
L 670.44 357.930775 
L 670.8 357.12 
L 671.16 357.038517 
L 671.52 357.36 
L 671.832 356.554846 
L 672.144 355.2 
L 672.72 357.6 
L 673.04 358.123251 
L 673.36 358.338875 
L 673.68 358.32 
L 674.04 358.598979 
L 674.4 359.04 
L 674.784 360.24 
L 675.36 359.52 
L 675.68 359.217645 
L 676 359.787271 
L 676.32 359.52 
L 676.6368 359.475187 
L 676.9536 359.811193 
L 677.2704 359.809299 
L 677.5872 359.740278 
L 677.904 359.52 
L 678 359.28 
L 678.576 359.28 
L 678.888 359.631736 
L 679.2 360.24 
L 679.56 359.328301 
L 679.92 358.56 
L 680.28 358.899109 
L 680.64 358.8 
L 681.12 355.68 
L 681.6 355.2 
L 681.96 355.565759 
L 682.32 356.16 
L 682.68 355.833763 
L 683.04 355.92 
L 683.52 357.6 
L 684 360 
L 684.36 360.755444 
L 684.72 361.44 
L 685.152 361.712161 
L 685.584 361.44 
L 685.92 358.08 
L 686.4 360 
L 686.736 359.52 
L 686.928 337.752 
L 687.108 351.6456 
L 687.36 357.6 
L 687.84 359.52 
L 688.32 358.56 
L 688.632 359.882323 
L 688.944 360.96 
L 689.28 355.44 
L 689.592 356.323718 
L 689.904 357.12 
L 690.48 354.072 
L 691.056 357.6 
L 691.368 358.428638 
L 691.68 359.76 
L 692.04 359.471765 
L 692.4 359.04 
L 692.976 358.56 
L 693.456 355.032 
L 693.768 357.101794 
L 694.08 358.56 
L 694.56 359.76 
L 694.872 360.015412 
L 695.184 360.72 
L 695.664 361.44 
L 696.144 359.76 
L 696.72 360 
L 697.296 359.52 
L 697.608 360.731438 
L 697.92 361.92 
L 698.28 362.155481 
L 698.64 361.92 
L 699.12 359.28 
L 699.48 359.91024 
L 699.84 360.24 
L 700.32 360 
L 700.632 359.762938 
L 700.944 359.28 
L 701.52 361.44 
L 701.88 361.80635 
L 702.24 361.92 
L 702.6 362.432322 
L 702.96 363.12 
L 703.32 362.391201 
L 703.68 361.92 
L 704.04 361.993041 
L 704.4 361.68 
L 704.76 361.993511 
L 705.12 361.92 
L 705.48 362.269053 
L 705.84 362.16 
L 706.32 361.92 
L 706.704 360.48 
L 706.836 354.318 
L 706.944 335.832 
L 707.124 352.4136 
L 707.376 359.52 
L 707.688 360.497862 
L 708 360.96 
L 708.36 361.207078 
L 708.72 361.44 
L 709.08 361.200946 
L 709.44 360.96 
L 709.92 356.88 
L 710.4 359.52 
L 710.88 360.96 
L 711.24 360.426136 
L 711.6 359.52 
L 712.176 359.52 
L 712.488 360.573577 
L 712.8 361.44 
L 713.28 362.16 
L 713.64 361.926027 
L 714 361.44 
L 714.48 360.48 
L 714.72 358.08 
L 715.032 358.744575 
L 715.344 359.04 
L 715.68 358.443363 
L 716.016 357.36 
L 716.328 358.098909 
L 716.64 359.04 
L 717.12 360.96 
L 717.6 358.08 
L 717.912 358.722364 
L 718.224 359.52 
L 718.704 360.96 
L 719.28 358.56 
L 719.664 356.88 
L 720.24 358.56 
L 720.816 357.12 
L 721.128 356.746645 
L 721.44 356.88 
L 721.92 356.64 
L 722.28 356.328847 
L 722.64 355.92 
L 723.12 352.56 
L 723.48 353.110428 
L 723.84 354.24 
L 724.32 355.68 
L 724.656 352.392 
L 725.136 357.12 
L 725.448 355.418533 
L 725.76 353.76 
L 726.24 356.4 
L 726.6 356.90661 
L 726.96 357.36 
L 727.28 357.306802 
L 727.6 357.57668 
L 727.92 357.6 
L 728.304 354.72 
L 728.88 354.24 
L 729.24 354.307032 
L 729.6 354.96 
L 730.08 353.28 
L 730.56 352.32 
L 731.04 356.16 
L 731.352 354.671305 
L 731.664 353.76 
L 732.144 356.4 
L 732.48 358.56 
L 732.792 357.921303 
L 733.104 356.88 
L 733.68 359.52 
L 734.256 360.48 
L 734.568 359.912759 
L 734.88 359.52 
L 735.192 358.687286 
L 735.504 358.32 
L 735.84 356.16 
L 736.176 354.72 
L 736.56 357.6 
L 737.04 359.28 
L 737.52 355.92 
L 738.096 357.12 
L 738.408 355.93388 
L 738.72 354.72 
L 739.2 355.44 
L 739.68 358.08 
L 740.016 356.64 
L 740.4 361.44 
L 740.76 362.328476 
L 741.12 362.88 
L 741.432 363.182672 
L 741.744 363.84 
L 742.32 363.6 
L 742.896 361.44 
L 743.208 361.876684 
L 743.52 362.16 
L 743.832 362.741257 
L 744.144 363.84 
L 744.72 365.04 
L 745.104 362.4 
L 745.584 363.84 
L 746.064 361.92 
L 746.64 361.92 
L 747 360.920249 
L 747.36 360.48 
L 747.696 358.56 
L 748.176 361.44 
L 748.656 360.96 
L 749.04 356.472 
L 749.616 360 
L 749.928 359.059565 
L 750.24 358.08 
L 750.72 361.44 
L 751.2 363.6 
L 751.68 363.84 
L 751.992 363.145356 
L 752.304 362.4 
L 752.784 361.44 
L 753.264 364.56 
L 753.84 362.64 
L 754.2 363.085756 
L 754.56 363.36 
L 754.92 363.501081 
L 755.28 363.36 
L 755.64 363.536932 
L 756 363.12 
L 756.36 363.610171 
L 756.72 364.08 
L 757.08 364.089525 
L 757.44 364.32 
L 757.92 362.64 
L 758.28 363.664196 
L 758.64 364.32 
L 759.12 364.08 
L 759.252 362.298 
L 759.36 356.952 
L 759.54 361.9416 
L 759.696 364.08 
L 760.008 364.176999 
L 760.32 364.56 
L 760.68 364.761918 
L 761.04 365.04 
L 761.4 363.936957 
L 761.76 363.36 
L 762.12 363.303819 
L 762.48 363.84 
L 763.056 361.44 
L 763.44 361.44 
L 763.68 359.28 
L 764.16 361.44 
L 764.52 361.248693 
L 764.88 360.48 
L 765.456 360 
L 765.984 361.92 
L 766.56 359.28 
L 766.872 360.569652 
L 767.184 361.44 
L 767.664 360.96 
L 768.144 359.28 
L 768.624 362.4 
L 769.2 362.4 
L 769.776 359.52 
L 770.088 359.162288 
L 770.4 358.56 
L 770.88 360 
L 771.36 364.8 
L 771.84 365.52 
L 772.152 364.983187 
L 772.464 364.56 
L 773.04 364.32 
L 773.52 361.44 
L 773.832 360.276136 
L 774.144 359.52 
L 774.72 360.96 
L 775.2 362.4 
L 775.68 366.24 
L 776.16 366.72 
L 776.52 366.385617 
L 776.88 366.48 
L 777.24 365.844152 
L 777.6 365.52 
L 777.96 365.070717 
L 778.32 364.56 
L 778.512 363.36 
L 778.656 335.832 
L 778.836 345.3576 
L 779.184 349.44 
L 779.52 359.52 
L 779.832 361.813908 
L 780.144 363.84 
L 780.72 360.72 
L 781.08 361.659963 
L 781.44 362.4 
L 781.92 360 
L 782.232 360.102679 
L 782.544 360.48 
L 783.12 359.28 
L 783.6 362.4 
L 784.176 363.6 
L 784.656 363.84 
L 784.848 346.392 
L 785.028 355.5816 
L 785.28 359.52 
L 785.76 363.36 
L 786.24 364.32 
L 786.552 363.643836 
L 786.864 362.4 
L 787.44 361.92 
L 788.016 360.96 
L 788.4 359.52 
L 788.88 358.56 
L 789.24 358.348448 
L 789.6 357.84 
L 790.08 355.68 
L 790.392 354.993917 
L 790.704 354.24 
L 791.28 354 
L 791.64 353.829714 
L 792 353.52 
L 792.48 356.16 
L 792.96 357.12 
L 793.44 356.16 
L 793.776 359.52 
L 794.256 360.48 
L 794.568 359.94983 
L 794.88 359.52 
L 795.36 356.88 
L 795.84 360 
L 796.176 362.88 
L 796.565758 362.816735 
L 796.955517 363.068301 
L 797.270753 361.612404 
L 797.585989 360.336252 
L 797.901226 358.185414 
L 798.216462 355.712785 
L 798.531699 357.091027 
L 798.846935 359.075306 
L 799.26725 359.676366 
L 799.687566 360.756567 
L 800.002802 360.473273 
L 800.318039 360.756567 
L 800.633275 359.419194 
L 800.948511 358.654991 
L 801.263748 359.507272 
L 801.578984 359.915937 
L 801.894221 360.358256 
L 802.209457 360.54641 
L 802.524694 360.635373 
L 802.83993 360.756567 
L 803.155166 358.40404 
L 803.470403 356.553415 
L 804.016813 355.712785 
L 804.395096 361.176883 
L 804.815412 363.488616 
L 805.193695 363.798621 
L 805.571979 364.119089 
L 805.992294 364.522851 
L 806.412609 364.95972 
L 806.727846 364.650719 
L 807.043082 364.749562 
L 807.463398 362.017513 
L 807.925744 361.807356 
" clip-path="url(#p67ec33360d)" style="fill: none; stroke: #3673a4; stroke-width: 1.5; stroke-linecap: square"/>
</g>
<g id="patch_8">
<path d="M 85.08 459 
L 85.08 133.8 
" style="fill: none; stroke: #000000; stroke-width: 0.8; stroke-linejoin: miter; stroke-linecap: square"/>
</g>
<g id="patch_9">
<path d="M 807.96 459 
L 807.96 133.8 
" style="fill: none; stroke: #000000; stroke-width: 0.8; stroke-linejoin: miter; stroke-linecap: square"/>
</g>
<g id="patch_10">
<path d="M 85.08 459 
L 807.96 459 
" style="fill: none; stroke: #000000; stroke-width: 0.8; stroke-linejoin: miter; stroke-linecap: square"/>
</g>
<g id="patch_11">
<path d="M 85.08 133.8 
L 807.96 133.8 
" style="fill: none; stroke: #000000; stroke-width: 0.8; stroke-linejoin: miter; stroke-linecap: square"/>
</g>
</g>
<g id="axes_3">
<g id="matplotlib.axis_5">
<g id="ytick_16">
<g id="line2d_23">
<defs>
<path id="m33c4ce201d" d="M 0 0 
L 3.5 0 
" style="stroke: #000000; stroke-width: 0.8"/>
</defs>
<g>
<use href="#m33c4ce201d" x="807.96" y="448.92" style="stroke: #000000; stroke-width: 0.8"/>
</g>
</g>
<g id="text_21">
<text x="814.96" y="452.72" style="font-family: 'Liberation Sans', 'DejaVu Sans', sans-serif; font-size: 10px; fill: #000000">21.5</text>
</g>
</g>
<g id="ytick_17">
<g id="line2d_24">
<g>
<use href="#m33c4ce201d" x="807.96" y="411.96" style="stroke: #000000; stroke-width: 0.8"/>
</g>
</g>
<g id="text_22">
<text x="814.96" y="415.76" style="font-family: 'Liberation Sans', 'DejaVu Sans', sans-serif; font-size: 10px; fill: #000000">22.0</text>
</g>
</g>
<g id="ytick_18">
<g id="line2d_25">
<g>
<use href="#m33c4ce201d" x="807.96" y="375" style="stroke: #000000; stroke-width: 0.8"/>
</g>
</g>
<g id="text_23">
<text x="814.96" y="378.8" style="font-family: 'Liberation Sans', 'DejaVu Sans', sans-serif; font-size: 10px; fill: #000000">22.5</text>
</g>
</g>
<g id="ytick_19">
<g id="line2d_26">
<g>
<use href="#m33c4ce201d" x="807.96" y="338.04" style="stroke: #000000; stroke-width: 0.8"/>
</g>
</g>
<g id="text_24">
<text x="814.96" y="341.84" style="font-family: 'Liberation Sans', 'DejaVu Sans', sans-serif; font-size: 10px; fill: #000000">23.0</text>
</g>
</g>
<g id="ytick_20">
<g id="line2d_27">
<g>
<use href="#m33c4ce201d" x="807.96" y="301.08" style="stroke: #000000; stroke-width: 0.8"/>
</g>
</g>
<g id="text_25">
<text x="814.96" y="304.88" style="font-family: 'Liberation Sans', 'DejaVu Sans', sans-serif; font-size: 10px; fill: #000000">23.5</text>
</g>
</g>
<g id="ytick_21">
<g id="line2d_28">
<g>
<use href="#m33c4ce201d" x="807.96" y="264.12" style="stroke: #000000; stroke-width: 0.8"/>
</g>
</g>
<g id="text_26">
<text x="814.96" y="267.92" style="font-family: 'Liberation Sans', 'DejaVu Sans', sans-serif; font-size: 10px; fill: #000000">24.0</text>
</g>
</g>
<g id="ytick_22">
<g id="line2d_29">
<g>
<use href="#m33c4ce201d" x="807.96" y="227.16" style="stroke: #000000; stroke-width: 0.8"/>
</g>
</g>
<g id="text_27">
<text x="814.96" y="230.96" style="font-family: 'Liberation Sans', 'DejaVu Sans', sans-serif; font-size: 10px; fill: #000000">24.5</text>
</g>
</g>
<g id="ytick_23">
<g id="line2d_30">
<g>
<use href="#m33c4ce201d" x="807.96" y="190.2" style="stroke: #000000; stroke-width: 0.8"/>
</g>
</g>
<g id="text_28">
<text x="814.96" y="194" style="font-family: 'Liberation Sans', 'DejaVu Sans', sans-serif; font-size: 10px; fill: #000000">25.0</text>
</g>
</g>
<g id="ytick_24">
<g id="line2d_31">
<g>
<use href="#m33c4ce201d" x="807.96" y="153.24" style="stroke: #000000; stroke-width: 0.8"/>
</g>
</g>
<g id="text_29">
<text x="814.96" y="157.04" style="font-family: 'Liberation Sans', 'DejaVu Sans', sans-serif; font-size: 10px; fill: #000000">25.5</text>
</g>
</g>
</g>
<g id="line2d_32">
<path d="M 85.08 241.02 
L 95.140008 245.64 
L 105.200016 250.26 
L 115.260024 254.88 
L 125.320032 259.5 
L 135.38004 259.5 
L 145.440048 264.12 
L 155.500056 264.12 
L 165.560064 268.74 
L 175.620072 268.74 
L 185.68008 268.74 
L 195.740088 268.74 
L 205.800096 268.74 
L 215.860104 268.74 
L 225.920112 273.36 
L 235.98012 273.36 
L 246.040128 277.98 
L 256.100136 277.98 
L 266.160144 277.98 
L 276.220152 282.6 
L 286.28016 282.6 
L 296.340168 287.22 
L 306.400176 287.22 
L 316.460184 287.22 
L 326.520192 287.22 
L 336.5802 291.84 
L 346.640208 296.46 
L 356.700216 301.08 
L 366.760224 301.08 
L 376.820232 305.7 
L 386.88024 305.7 
L 396.940248 310.32 
L 407.000256 310.32 
L 417.060264 310.32 
L 427.120272 314.94 
L 437.18028 310.32 
L 447.240288 314.94 
L 457.300296 314.94 
L 467.360304 314.94 
L 477.420312 314.94 
L 487.48032 319.56 
L 497.540328 319.56 
L 507.600336 319.56 
L 517.660344 319.56 
L 527.720352 324.18 
L 537.78036 324.18 
L 547.840368 324.18 
L 557.900376 324.18 
L 567.960384 324.18 
L 578.020392 324.18 
L 588.0804 324.18 
L 598.140408 328.8 
L 608.200416 328.8 
" clip-path="url(#pe7fdaa71cf)" style="fill: none; stroke-dasharray: 7.4,3.2; stroke-dashoffset: 0; stroke: #d62728; stroke-width: 2"/>
</g>
<g id="patch_12">
<path d="M 85.08 459 
L 85.08 133.8 
" style="fill: none; stroke: #000000; stroke-width: 0.8; stroke-linejoin: miter; stroke-linecap: square"/>
</g>
<g id="patch_13">
<path d="M 807.96 459 
L 807.96 133.8 
" style="fill: none; stroke: #000000; stroke-width: 0.8; stroke-linejoin: miter; stroke-linecap: square"/>
</g>
<g id="patch_14">
<path d="M 85.08 459 
L 807.96 459 
" style="fill: none; stroke: #000000; stroke-width: 0.8; stroke-linejoin: miter; stroke-linecap: square"/>
</g>
<g id="patch_15">
<path d="M 85.08 133.8 
L 807.96 133.8 
" style="fill: none; stroke: #000000; stroke-width: 0.8; stroke-linejoin: miter; stroke-linecap: square"/>
</g>
</g>
<g id="axes_4">
<g id="patch_16">
<path d="M 688.184 138.72 
L 800.704 138.72 
Q 802.704 138.72 802.704 140.72 
L 802.704 185.2 
Q 802.704 187.2 800.704 187.2 
L 688.184 187.2 
Q 686.184 187.2 686.184 185.2 
L 686.184 140.72 
Q 686.184 138.72 688.184 138.72 
z
" clip-path="url(#pdc82a0723c)" style="fill: #ffffff; fill-opacity: 0.8; stroke: #cccccc; stroke-opacity: 0.8; stroke-linejoin: miter"/>
</g>
<g id="line2d_33">
<path d="M 690.192 162.48 
L 710.184 162.48 
" clip-path="url(#pdc82a0723c)" style="fill: none; stroke: #006400; stroke-width: 1.5; stroke-linecap: square"/>
</g>
<g id="line2d_34">
<path d="M 690.192 177.552 
L 710.184 177.552 
" clip-path="url(#pdc82a0723c)" style="fill: none; stroke: #3673a4; stroke-width: 1.5; stroke-linecap: square"/>
</g>
<g id="text_30">
<text x="718.272" y="166.08" style="font-family: 'Liberation Sans', 'DejaVu Sans', sans-serif; font-size: 10px; fill: #000000">ID 0.0 726.35Hz</text>
</g>
<g id="text_31">
<text x="718.272" y="181.272" style="font-family: 'Liberation Sans', 'DejaVu Sans', sans-serif; font-size: 10px; fill: #000000">ID 1.0 705.17Hz</text>
</g>
<g id="text_32">
<text x="744.44" y="151.272" text-anchor="middle" style="font-family: 'Liberation Sans', 'DejaVu Sans', sans-serif; font-size: 10px; fill: #000000">EODf<tspan dy="1.64" style="font-size: 7px">25</tspan></text>
</g>
</g>
<g id="text_33">
<text x="446.52" y="19.1" text-anchor="middle" style="font-family: 'Liberation Sans', 'DejaVu Sans', sans-serif; font-size: 12px; fill: #000000">2020-03-13-10_00</text>
</g>
</g>
<defs>
<clipPath id="pc939853afc">
<rect x="85.08" y="25.32" width="722.88" height="108.48"/>
</clipPath>
<clipPath id="p67ec33360d">
<rect x="85.08" y="133.8" width="722.88" height="325.2"/>
</clipPath>
<clipPath id="pe7fdaa71cf">
<rect x="85.08" y="133.8" width="722.88" height="325.2"/>
</clipPath>
<clipPath id="pdc82a0723c">
<rect x="0" y="0" width="850.32" height="510"/>
</clipPath>
</defs>
</svg>

<svg width="3543" height="2125" viewBox="0 0 3543 2125" style="position:absolute;left:0;top:0" font-family="Liberation Sans, sans-serif" fill="#000" fill-opacity="0"><text x="1771" y="79" font-size="50" text-anchor="middle">2020-03-13-10_00</text><text x="324" y="172" font-size="42" text-anchor="end">chirp lose</text><text x="324" y="222" font-size="42" text-anchor="end">chirp win</text><text x="324" y="322" font-size="42" text-anchor="end">rise lose</text><text x="324" y="372" font-size="42" text-anchor="end">rise win</text><text x="324" y="473" font-size="42" text-anchor="end">chase</text><text x="324" y="523" font-size="42" text-anchor="end">contact</text><text x="324" y="633.5" font-size="42" text-anchor="end">760</text><text x="324" y="787.5" font-size="42" text-anchor="end">740</text><text x="324" y="941.5" font-size="42" text-anchor="end">720</text><text x="324" y="1095.5" font-size="42" text-anchor="end">700</text><text x="324" y="1249.5" font-size="42" text-anchor="end">680</text><text x="324" y="1403.5" font-size="42" text-anchor="end">660</text><text x="324" y="1557.5" font-size="42" text-anchor="end">640</text><text x="324" y="1711.5" font-size="42" text-anchor="end">620</text><text x="324" y="1865.5" font-size="42" text-anchor="end">600</text><text x="3397" y="654.5" font-size="42" text-anchor="start">25.5</text><text x="3397" y="808.5" font-size="42" text-anchor="start">25.0</text><text x="3397" y="962.5" font-size="42" text-anchor="start">24.5</text><text x="3397" y="1116.5" font-size="42" text-anchor="start">24.0</text><text x="3397" y="1270.5" font-size="42" text-anchor="start">23.5</text><text x="3397" y="1424.5" font-size="42" text-anchor="start">23.0</text><text x="3397" y="1578.5" font-size="42" text-anchor="start">22.5</text><text x="3397" y="1732.5" font-size="42" text-anchor="start">22.0</text><text x="3397" y="1886.5" font-size="42" text-anchor="start">21.5</text><text x="857.5" y="1976" font-size="42" text-anchor="middle">1</text><text x="1360.5" y="1976" font-size="42" text-anchor="middle">2</text><text x="1863.5" y="1976" font-size="42" text-anchor="middle">3</text><text x="2366.5" y="1976" font-size="42" text-anchor="middle">4</text><text x="2869.5" y="1976" font-size="42" text-anchor="middle">5</text><text x="3104" y="631" font-size="42" text-anchor="middle">EODf 25</text><text x="2995" y="692" font-size="42" text-anchor="start">ID 0.0 726.35Hz</text><text x="2995" y="755" font-size="42" text-anchor="start">ID 1.0 705.17Hz</text></svg>
</body></html>
